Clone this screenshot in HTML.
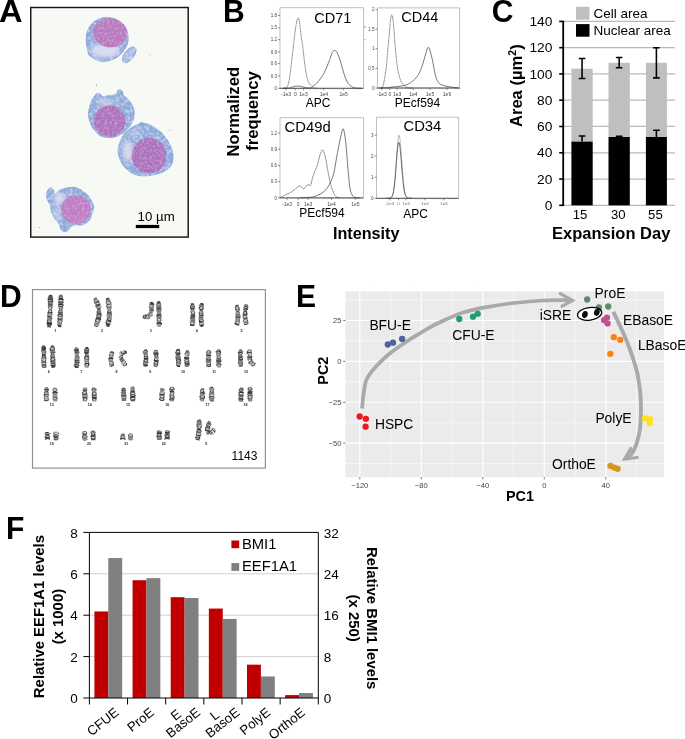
<!DOCTYPE html>
<html><head><meta charset="utf-8"><title>Figure</title>
<style>
html,body{margin:0;padding:0;background:#fff;}
body{width:685px;height:739px;overflow:hidden;font-family:"Liberation Sans",sans-serif;}
svg{display:block;will-change:transform;}
svg text{font-family:"Liberation Sans",sans-serif;}
</style></head><body>
<svg width="685" height="739" viewBox="0 0 685 739">
<defs>
<filter id="cyF" x="-15%" y="-15%" width="130%" height="130%">
<feGaussianBlur in="SourceGraphic" stdDeviation="0.55" result="b"/>
<feTurbulence type="fractalNoise" baseFrequency="0.3" numOctaves="2" seed="5" result="n"/>
<feColorMatrix in="n" type="matrix" values="0 0 0 0 0.88  0 0 0 0 0.9  0 0 0 0 0.97  1.3 0 0 0 -0.55" result="w"/>
<feComposite in="w" in2="b" operator="in" result="wi"/>
<feMerge result="m"><feMergeNode in="b"/><feMergeNode in="wi"/></feMerge>
<feGaussianBlur in="m" stdDeviation="0.45"/></filter>
<filter id="nuF" x="-15%" y="-15%" width="130%" height="130%">
<feGaussianBlur in="SourceGraphic" stdDeviation="0.45" result="b"/>
<feTurbulence type="fractalNoise" baseFrequency="0.4" numOctaves="2" seed="9" result="n"/>
<feColorMatrix in="n" type="matrix" values="0 0 0 0 0.85  0 0 0 0 0.68  0 0 0 0 0.9  1.0 0 0 0 -0.45" result="w"/>
<feComposite in="w" in2="b" operator="in" result="wi"/>
<feColorMatrix in="n" type="matrix" values="0 0 0 0 0.56  0 0 0 0 0.3  0 0 0 0 0.64  0 1.0 0 0 -0.46" result="k"/>
<feComposite in="k" in2="b" operator="in" result="ki"/>
<feMerge result="m"><feMergeNode in="b"/><feMergeNode in="wi"/><feMergeNode in="ki"/></feMerge>
<feGaussianBlur in="m" stdDeviation="0.45"/></filter>
<filter id="liF" x="-40%" y="-40%" width="180%" height="180%"><feGaussianBlur stdDeviation="2.2"/></filter>
<clipPath id="clipA"><rect x="30.75" y="7.5" width="157.45" height="229.6"/></clipPath>
<filter id="blB" x="-5%" y="-5%" width="110%" height="110%"><feGaussianBlur stdDeviation="0.28"/></filter>
<filter id="blD" x="-10%" y="-10%" width="120%" height="120%"><feGaussianBlur stdDeviation="0.45"/></filter>
<filter id="blD2" x="-10%" y="-10%" width="120%" height="120%"><feGaussianBlur stdDeviation="0.25"/></filter>
<clipPath id="clipE"><rect x="345.4" y="291.3" width="318.70000000000005" height="185.89999999999998"/></clipPath>
</defs>
<rect width="685" height="739" fill="#fff"/>
<text transform="translate(-0.9 21.9) scale(1.045 1)" font-size="31.3" font-weight="bold">A</text>
<text transform="translate(223 21.9) scale(0.96 1)" font-size="31.3" font-weight="bold">B</text>
<text transform="translate(491.7 22.0) scale(0.96 1)" font-size="31.3" font-weight="bold">C</text>
<text transform="translate(0 307) scale(0.96 1)" font-size="31.3" font-weight="bold">D</text>
<text transform="translate(296.1 307) scale(0.96 1)" font-size="31.3" font-weight="bold">E</text>
<text transform="translate(5.9 539) scale(0.96 1)" font-size="31.3" font-weight="bold">F</text>
<rect x="30.75" y="7.5" width="157.45" height="229.6" fill="#f7f9f5"/>
<g clip-path="url(#clipA)">
<g filter="url(#cyF)" stroke="#7d9dd5" stroke-width="0.9">
<path d="M86.2 39.6C86.3 36.5 86.6 33.3 87.8 30.4C89.0 27.5 90.8 24.4 93.4 22.3C96.0 20.2 99.8 18.2 103.6 17.7C107.3 17.2 112.5 17.9 115.9 19.2C119.3 20.5 122.0 22.9 124.0 25.3C126.0 27.7 126.9 30.8 127.6 33.5C128.2 36.2 128.3 39.2 127.9 41.7C127.5 44.2 126.5 46.4 125.0 48.8C123.5 51.2 121.3 54.1 118.9 56.0C116.5 57.9 113.5 59.1 110.8 60.0C108.1 60.9 105.2 61.7 102.6 61.6C100.0 61.5 97.6 60.3 95.4 59.2C93.2 58.1 90.5 56.7 89.2 55.0C87.9 53.3 87.9 51.6 87.4 49.0C86.9 46.4 86.1 42.7 86.2 39.6Z" fill="#8eaadc"/>
<ellipse cx="129.2" cy="54.8" rx="4.6" ry="9.3" fill="#a6bae3" transform="rotate(38 129.2 54.8)"/>
<path d="M88.8 111.4C89.2 108.6 90.6 103.5 91.5 101.0C92.4 98.5 93.5 97.7 94.4 96.4C95.3 95.1 96.0 93.8 97.0 93.4C98.0 93.0 99.3 93.5 100.2 94.0C101.1 94.5 101.0 96.3 102.5 96.6C104.0 96.9 106.8 96.0 109.0 95.6C111.2 95.2 114.5 95.2 116.0 94.4C117.5 93.6 117.0 91.4 117.8 90.6C118.6 89.8 120.0 89.5 120.8 89.8C121.6 90.1 122.3 91.3 122.8 92.2C123.2 93.1 122.4 93.9 123.5 95.4C124.6 96.9 127.8 98.7 129.5 101.0C131.2 103.3 132.9 106.3 133.6 109.0C134.3 111.7 134.2 114.6 133.8 117.0C133.5 119.4 132.5 121.7 131.5 123.6C130.5 125.5 129.3 126.9 127.8 128.6C126.3 130.3 124.3 132.3 122.3 133.6C120.3 134.9 118.2 135.9 116.0 136.6C113.8 137.3 111.5 137.6 109.2 137.6C106.9 137.6 104.3 137.4 102.0 136.4C99.7 135.4 97.4 133.6 95.6 131.6C93.8 129.6 92.1 126.9 91.0 124.6C89.9 122.3 89.4 120.2 89.0 118.0C88.6 115.8 88.4 114.2 88.8 111.4Z" fill="#8eaadc"/>
<path d="M118.2 151.5C118.1 148.9 118.7 146.4 119.6 143.6C120.5 140.8 122.2 137.0 123.8 134.6C125.4 132.2 127.2 130.8 129.0 129.4C130.8 128.0 132.9 126.9 134.6 126.0C136.3 125.1 137.9 124.6 139.0 124.0C140.1 123.4 140.5 122.5 141.4 122.4C142.3 122.3 143.4 123.3 144.6 123.6C145.8 123.9 147.1 123.9 148.5 124.4C149.9 124.9 151.1 125.5 153.0 126.7C154.9 127.9 157.8 129.7 160.0 131.6C162.2 133.5 164.4 136.0 166.1 138.4C167.8 140.8 169.3 143.6 170.4 146.0C171.5 148.4 172.3 150.7 172.7 153.0C173.1 155.3 173.2 157.8 172.8 160.0C172.4 162.2 171.7 164.3 170.5 166.1C169.3 167.9 167.3 169.4 165.4 170.6C163.5 171.8 161.7 172.6 158.8 173.4C155.9 174.2 151.4 175.3 148.0 175.6C144.6 175.9 141.4 176.0 138.4 175.4C135.4 174.8 132.4 173.4 130.0 171.8C127.6 170.2 125.5 168.2 123.8 166.1C122.1 164.0 120.9 161.4 120.0 159.0C119.1 156.6 118.3 154.1 118.2 151.5Z" fill="#8eaadc"/>
<path d="M46.4 195.4C46.3 193.5 47.1 191.6 47.8 190.3C48.5 189.0 49.9 187.5 50.8 187.5C51.7 187.5 52.7 189.2 53.4 190.3C54.1 191.5 53.8 194.4 54.9 194.4C56.0 194.4 57.9 191.4 60.0 190.3C62.1 189.2 65.0 188.2 67.7 187.8C70.4 187.4 73.4 187.2 75.9 187.8C78.5 188.4 80.8 189.8 83.0 191.3C85.2 192.8 87.6 194.9 89.2 197.0C90.8 199.1 92.0 201.7 92.7 203.6C93.4 205.5 93.8 206.7 93.5 208.7C93.2 210.7 91.8 213.7 91.2 215.4C90.7 217.1 91.1 217.6 90.2 218.9C89.3 220.2 87.6 222.0 86.1 223.0C84.6 224.0 82.7 224.8 81.0 225.1C79.3 225.4 77.6 224.3 75.9 224.6C74.2 224.8 72.2 225.6 70.8 226.6C69.4 227.6 69.0 229.9 67.7 230.7C66.4 231.5 64.3 231.6 63.1 231.2C61.9 230.8 60.9 229.3 60.3 228.1C59.7 226.9 60.5 225.7 59.5 224.0C58.5 222.3 55.8 220.1 54.4 217.9C53.0 215.7 52.0 213.0 51.3 210.8C50.6 208.6 50.8 206.1 50.3 204.6C49.8 203.1 48.9 203.1 48.3 201.6C47.6 200.1 46.5 197.3 46.4 195.4Z" fill="#8eaadc"/>
</g>
<g filter="url(#liF)" fill="#dadcf0">
<ellipse cx="105" cy="50.5" rx="14.5" ry="7.2" opacity="1"/>
<ellipse cx="106" cy="102.5" rx="9" ry="4" opacity="0.6"/>
<ellipse cx="127.5" cy="151" rx="5" ry="10.5" opacity="0.95"/>
<ellipse cx="134" cy="133" rx="7" ry="4" opacity="0.45"/>
<ellipse cx="59.5" cy="198.5" rx="5.5" ry="5.5" opacity="1"/>
<ellipse cx="57" cy="214" rx="4" ry="8" opacity="0.55"/>
</g>
<g filter="url(#nuF)">
<ellipse cx="110" cy="32.8" rx="17" ry="14.5" fill="#b877bf" transform="rotate(8 110 32.8)"/>
<ellipse cx="109.6" cy="121.2" rx="15.7" ry="15.6" fill="#ad70bc"/>
<ellipse cx="149.1" cy="155.6" rx="17.3" ry="17.8" fill="#aa6fbb"/>
<ellipse cx="75.9" cy="209.5" rx="14.8" ry="14.5" fill="#bf7bc4"/>
</g>
<g fill="#a0509a" opacity="0.7"><circle cx="96.5" cy="85.2" r="0.6"/><circle cx="150" cy="54.8" r="0.5"/><circle cx="170" cy="130.5" r="0.5"/><circle cx="39.3" cy="227.5" r="0.6"/><circle cx="126.5" cy="30.5" r="0.6"/></g>
</g>
<rect x="30.75" y="7.5" width="157.45" height="229.6" fill="none" stroke="#161616" stroke-width="1.45"/>
<rect x="135.8" y="224.9" width="23.4" height="3.2" fill="#000"/>
<text x="137.6" y="220.7" font-size="13.25" font-weight="normal" text-anchor="start" fill="#000" >10 µm</text>
<line x1="563.2" y1="205.30" x2="675" y2="205.30" stroke="#b9b9b9" stroke-width="1.25"/>
<line x1="563.2" y1="179.03" x2="675" y2="179.03" stroke="#b9b9b9" stroke-width="1.25"/>
<line x1="563.2" y1="152.76" x2="675" y2="152.76" stroke="#b9b9b9" stroke-width="1.25"/>
<line x1="563.2" y1="126.49" x2="675" y2="126.49" stroke="#b9b9b9" stroke-width="1.25"/>
<line x1="563.2" y1="100.22" x2="675" y2="100.22" stroke="#b9b9b9" stroke-width="1.25"/>
<line x1="563.2" y1="73.95" x2="675" y2="73.95" stroke="#b9b9b9" stroke-width="1.25"/>
<line x1="563.2" y1="47.68" x2="675" y2="47.68" stroke="#b9b9b9" stroke-width="1.25"/>
<line x1="563.2" y1="21.41" x2="675" y2="21.41" stroke="#b9b9b9" stroke-width="1.25"/>
<rect x="571.4" y="68.70" width="21.30" height="72.90" fill="#bfbfbf"/>
<rect x="571.4" y="141.60" width="21.30" height="63.70" fill="#000"/>
<path d="M582.05 58.45V78.55M578.75 58.45h6.6M578.75 78.55h6.6" stroke="#000" stroke-width="1.55" fill="none"/>
<path d="M582.05 136.08V141.60M578.75 136.08h6.6" stroke="#000" stroke-width="1.55" fill="none"/>
<rect x="608.5" y="62.79" width="21.30" height="74.21" fill="#bfbfbf"/>
<rect x="608.5" y="137.00" width="21.30" height="68.30" fill="#000"/>
<path d="M619.15 57.53V67.78M615.85 57.53h6.6M615.85 67.78h6.6" stroke="#000" stroke-width="1.55" fill="none"/>
<path d="M619.15 136.21V137.00M615.85 136.21h6.6" stroke="#000" stroke-width="1.55" fill="none"/>
<rect x="645.9" y="62.79" width="21.00" height="74.21" fill="#bfbfbf"/>
<rect x="645.9" y="137.00" width="21.00" height="68.30" fill="#000"/>
<path d="M656.4 47.68V77.89M653.1 47.68h6.6M653.1 77.89h6.6" stroke="#000" stroke-width="1.55" fill="none"/>
<path d="M656.4 130.17V137.00M653.1 130.17h6.6" stroke="#000" stroke-width="1.55" fill="none"/>
<line x1="563.2" y1="20.81" x2="563.2" y2="206.10" stroke="#000" stroke-width="1.8"/>
<line x1="559.2" y1="205.30" x2="563.2" y2="205.30" stroke="#000" stroke-width="1.6"/>
<text transform="translate(552.4 209.90) scale(1.05 1)" font-size="13.1" text-anchor="end">0</text>
<line x1="559.2" y1="179.03" x2="563.2" y2="179.03" stroke="#000" stroke-width="1.6"/>
<text transform="translate(552.4 183.63) scale(1.05 1)" font-size="13.1" text-anchor="end">20</text>
<line x1="559.2" y1="152.76" x2="563.2" y2="152.76" stroke="#000" stroke-width="1.6"/>
<text transform="translate(552.4 157.36) scale(1.05 1)" font-size="13.1" text-anchor="end">40</text>
<line x1="559.2" y1="126.49" x2="563.2" y2="126.49" stroke="#000" stroke-width="1.6"/>
<text transform="translate(552.4 131.09) scale(1.05 1)" font-size="13.1" text-anchor="end">60</text>
<line x1="559.2" y1="100.22" x2="563.2" y2="100.22" stroke="#000" stroke-width="1.6"/>
<text transform="translate(552.4 104.82) scale(1.05 1)" font-size="13.1" text-anchor="end">80</text>
<line x1="559.2" y1="73.95" x2="563.2" y2="73.95" stroke="#000" stroke-width="1.6"/>
<text transform="translate(552.4 78.55) scale(1.05 1)" font-size="13.1" text-anchor="end">100</text>
<line x1="559.2" y1="47.68" x2="563.2" y2="47.68" stroke="#000" stroke-width="1.6"/>
<text transform="translate(552.4 52.28) scale(1.05 1)" font-size="13.1" text-anchor="end">120</text>
<line x1="559.2" y1="21.41" x2="563.2" y2="21.41" stroke="#000" stroke-width="1.6"/>
<text transform="translate(552.4 26.01) scale(1.05 1)" font-size="13.1" text-anchor="end">140</text>
<text x="580" y="218.9" font-size="13.2" font-weight="normal" text-anchor="middle" fill="#000" >15</text>
<text x="618.3" y="218.9" font-size="13.2" font-weight="normal" text-anchor="middle" fill="#000" >30</text>
<text x="655.4" y="218.9" font-size="13.2" font-weight="normal" text-anchor="middle" fill="#000" >55</text>
<text x="611.2" y="239.1" font-size="16.5" font-weight="bold" text-anchor="middle" fill="#000" >Expansion Day</text>
<text transform="translate(521.5 85.7) rotate(-90)" font-size="16.6" font-weight="bold" text-anchor="middle">Area (µm<tspan font-size="10.5" dy="-5.5">2</tspan><tspan dy="5.5">)</tspan></text>
<rect x="576" y="6.8" width="13.5" height="12.9" fill="#bfbfbf"/>
<rect x="576" y="24.1" width="13.5" height="12.6" fill="#000"/>
<text x="593.6" y="17.7" font-size="13.5" font-weight="normal" text-anchor="start" fill="#000" >Cell area</text>
<text x="593.6" y="34.6" font-size="13.5" font-weight="normal" text-anchor="start" fill="#000" >Nuclear area</text>
<g filter="url(#blB)">
<path d="M280 7.7H363.5V88.3H280Z" fill="none" stroke="#b8b8b8" stroke-width="0.9"/>
<path d="M279.7 88.3H363.5" fill="none" stroke="#4a4a4a" stroke-width="0.9"/>
<line x1="278" y1="88.3" x2="280" y2="88.3" stroke="#5a5a5a" stroke-width="0.7"/>
<text x="277" y="89.89999999999999" font-size="4.5" font-weight="normal" text-anchor="end" fill="#444" >0</text>
<line x1="278" y1="75.9" x2="280" y2="75.9" stroke="#5a5a5a" stroke-width="0.7"/>
<text x="277" y="77.5" font-size="4.5" font-weight="normal" text-anchor="end" fill="#444" >0.3</text>
<line x1="278" y1="63.6" x2="280" y2="63.6" stroke="#5a5a5a" stroke-width="0.7"/>
<text x="277" y="65.2" font-size="4.5" font-weight="normal" text-anchor="end" fill="#444" >0.6</text>
<line x1="278" y1="51.9" x2="280" y2="51.9" stroke="#5a5a5a" stroke-width="0.7"/>
<text x="277" y="53.5" font-size="4.5" font-weight="normal" text-anchor="end" fill="#444" >0.9</text>
<line x1="278" y1="39.7" x2="280" y2="39.7" stroke="#5a5a5a" stroke-width="0.7"/>
<text x="277" y="41.300000000000004" font-size="4.5" font-weight="normal" text-anchor="end" fill="#444" >1.2</text>
<line x1="278" y1="27.8" x2="280" y2="27.8" stroke="#5a5a5a" stroke-width="0.7"/>
<text x="277" y="29.400000000000002" font-size="4.5" font-weight="normal" text-anchor="end" fill="#444" >1.5</text>
<line x1="278" y1="15.4" x2="280" y2="15.4" stroke="#5a5a5a" stroke-width="0.7"/>
<text x="277" y="17.0" font-size="4.5" font-weight="normal" text-anchor="end" fill="#444" >1.8</text>
<line x1="286" y1="88.3" x2="286" y2="90.3" stroke="#5a5a5a" stroke-width="0.7"/>
<text x="286" y="96.4" font-size="5" font-weight="normal" text-anchor="middle" fill="#444" >-1e3</text>
<line x1="295.3" y1="88.3" x2="295.3" y2="90.3" stroke="#5a5a5a" stroke-width="0.7"/>
<text x="295.3" y="96.4" font-size="5" font-weight="normal" text-anchor="middle" fill="#444" >0</text>
<line x1="303.5" y1="88.3" x2="303.5" y2="90.3" stroke="#5a5a5a" stroke-width="0.7"/>
<text x="303.5" y="96.4" font-size="5" font-weight="normal" text-anchor="middle" fill="#444" >1e3</text>
<line x1="323.8" y1="88.3" x2="323.8" y2="90.3" stroke="#5a5a5a" stroke-width="0.7"/>
<text x="323.8" y="96.4" font-size="5" font-weight="normal" text-anchor="middle" fill="#444" >1e4</text>
<line x1="343.6" y1="88.3" x2="343.6" y2="90.3" stroke="#5a5a5a" stroke-width="0.7"/>
<text x="343.6" y="96.4" font-size="5" font-weight="normal" text-anchor="middle" fill="#444" >1e5</text>
<line x1="309.61" y1="88.3" x2="309.61" y2="89.39999999999999" stroke="#8a8a8a" stroke-width="0.45"/>
<line x1="313.19" y1="88.3" x2="313.19" y2="89.39999999999999" stroke="#8a8a8a" stroke-width="0.45"/>
<line x1="315.72" y1="88.3" x2="315.72" y2="89.39999999999999" stroke="#8a8a8a" stroke-width="0.45"/>
<line x1="317.69" y1="88.3" x2="317.69" y2="89.39999999999999" stroke="#8a8a8a" stroke-width="0.45"/>
<line x1="319.30" y1="88.3" x2="319.30" y2="89.39999999999999" stroke="#8a8a8a" stroke-width="0.45"/>
<line x1="320.66" y1="88.3" x2="320.66" y2="89.39999999999999" stroke="#8a8a8a" stroke-width="0.45"/>
<line x1="321.83" y1="88.3" x2="321.83" y2="89.39999999999999" stroke="#8a8a8a" stroke-width="0.45"/>
<line x1="322.87" y1="88.3" x2="322.87" y2="89.39999999999999" stroke="#8a8a8a" stroke-width="0.45"/>
<line x1="329.76" y1="88.3" x2="329.76" y2="89.39999999999999" stroke="#8a8a8a" stroke-width="0.45"/>
<line x1="333.25" y1="88.3" x2="333.25" y2="89.39999999999999" stroke="#8a8a8a" stroke-width="0.45"/>
<line x1="335.72" y1="88.3" x2="335.72" y2="89.39999999999999" stroke="#8a8a8a" stroke-width="0.45"/>
<line x1="337.64" y1="88.3" x2="337.64" y2="89.39999999999999" stroke="#8a8a8a" stroke-width="0.45"/>
<line x1="339.21" y1="88.3" x2="339.21" y2="89.39999999999999" stroke="#8a8a8a" stroke-width="0.45"/>
<line x1="340.53" y1="88.3" x2="340.53" y2="89.39999999999999" stroke="#8a8a8a" stroke-width="0.45"/>
<line x1="341.68" y1="88.3" x2="341.68" y2="89.39999999999999" stroke="#8a8a8a" stroke-width="0.45"/>
<line x1="342.69" y1="88.3" x2="342.69" y2="89.39999999999999" stroke="#8a8a8a" stroke-width="0.45"/>
<line x1="349.56" y1="88.3" x2="349.56" y2="89.39999999999999" stroke="#8a8a8a" stroke-width="0.45"/>
<line x1="353.05" y1="88.3" x2="353.05" y2="89.39999999999999" stroke="#8a8a8a" stroke-width="0.45"/>
<line x1="355.52" y1="88.3" x2="355.52" y2="89.39999999999999" stroke="#8a8a8a" stroke-width="0.45"/>
<line x1="357.44" y1="88.3" x2="357.44" y2="89.39999999999999" stroke="#8a8a8a" stroke-width="0.45"/>
<line x1="359.01" y1="88.3" x2="359.01" y2="89.39999999999999" stroke="#8a8a8a" stroke-width="0.45"/>
<line x1="360.33" y1="88.3" x2="360.33" y2="89.39999999999999" stroke="#8a8a8a" stroke-width="0.45"/>
<path d="M283.00 88.20 C283.48 88.17 285.17 88.27 285.90 88.00 C286.63 87.73 286.92 87.63 287.40 86.60 C287.88 85.57 288.37 83.77 288.80 81.80 C289.23 79.83 289.63 77.27 290.00 74.80 C290.37 72.33 290.63 70.05 291.00 67.00 C291.37 63.95 291.77 60.23 292.20 56.50 C292.63 52.77 293.13 48.60 293.60 44.60 C294.07 40.60 294.50 36.27 295.00 32.50 C295.50 28.73 296.07 24.45 296.60 22.00 C297.13 19.55 297.73 17.90 298.20 17.80 C298.67 17.70 299.03 19.40 299.40 21.40 C299.77 23.40 300.07 27.13 300.40 29.80 C300.73 32.47 301.05 34.93 301.40 37.40 C301.75 39.87 302.17 42.10 302.50 44.60 C302.83 47.10 303.12 49.92 303.40 52.40 C303.68 54.88 303.90 56.98 304.20 59.50 C304.50 62.02 304.83 65.02 305.20 67.50 C305.57 69.98 306.03 72.55 306.40 74.40 C306.77 76.25 307.05 77.37 307.40 78.60 C307.75 79.83 308.10 80.87 308.50 81.80 C308.90 82.73 309.35 83.55 309.80 84.20 C310.25 84.85 310.73 85.23 311.20 85.70 C311.67 86.17 312.13 86.63 312.60 87.00 C313.07 87.37 313.27 87.70 314.00 87.90 C314.73 88.10 316.50 88.15 317.00 88.20" fill="none" stroke="#383838" stroke-width="0.62" stroke-dasharray="1.5 0.5"/>
<path d="M283.00 88.20 C283.83 88.18 286.78 88.17 288.00 88.10 C289.22 88.03 289.47 88.02 290.30 87.80 C291.13 87.58 292.13 87.07 293.00 86.80 C293.87 86.53 294.70 86.33 295.50 86.20 C296.30 86.07 296.97 85.98 297.80 86.00 C298.63 86.02 299.55 86.12 300.50 86.30 C301.45 86.48 302.47 86.87 303.50 87.10 C304.53 87.33 305.78 87.57 306.70 87.70 C307.62 87.83 308.25 87.92 309.00 87.90 C309.75 87.88 310.45 87.92 311.20 87.60 C311.95 87.28 312.77 86.57 313.50 86.00 C314.23 85.43 314.87 84.90 315.60 84.20 C316.33 83.50 317.07 82.77 317.90 81.80 C318.73 80.83 319.68 79.63 320.60 78.40 C321.52 77.17 322.63 75.67 323.40 74.40 C324.17 73.13 324.63 72.03 325.20 70.80 C325.77 69.57 326.28 68.25 326.80 67.00 C327.32 65.75 327.80 64.55 328.30 63.30 C328.80 62.05 329.35 60.73 329.80 59.50 C330.25 58.27 330.58 57.05 331.00 55.90 C331.42 54.75 331.87 53.42 332.30 52.60 C332.73 51.78 333.15 51.35 333.60 51.00 C334.05 50.65 334.53 50.43 335.00 50.50 C335.47 50.57 335.97 50.88 336.40 51.40 C336.83 51.92 337.20 52.73 337.60 53.60 C338.00 54.47 338.42 55.58 338.80 56.60 C339.18 57.62 339.53 58.57 339.90 59.70 C340.27 60.83 340.65 62.18 341.00 63.40 C341.35 64.62 341.65 65.77 342.00 67.00 C342.35 68.23 342.73 69.57 343.10 70.80 C343.47 72.03 343.78 73.13 344.20 74.40 C344.62 75.67 345.10 77.17 345.60 78.40 C346.10 79.63 346.60 80.77 347.20 81.80 C347.80 82.83 348.52 83.85 349.20 84.60 C349.88 85.35 350.50 85.80 351.30 86.30 C352.10 86.80 353.00 87.30 354.00 87.60 C355.00 87.90 355.97 88.00 357.30 88.10 C358.63 88.20 361.22 88.18 362.00 88.20" fill="none" stroke="#383838" stroke-width="0.68"/>
<path d="M377.5 7.9H459.5V88H377.5Z" fill="none" stroke="#b8b8b8" stroke-width="0.9"/>
<path d="M377.2 88H459.5" fill="none" stroke="#4a4a4a" stroke-width="0.9"/>
<line x1="375.5" y1="88" x2="377.5" y2="88" stroke="#5a5a5a" stroke-width="0.7"/>
<text x="374.5" y="89.6" font-size="4.5" font-weight="normal" text-anchor="end" fill="#444" >0</text>
<line x1="375.5" y1="68.3" x2="377.5" y2="68.3" stroke="#5a5a5a" stroke-width="0.7"/>
<text x="374.5" y="69.89999999999999" font-size="4.5" font-weight="normal" text-anchor="end" fill="#444" >0.5</text>
<line x1="375.5" y1="48.7" x2="377.5" y2="48.7" stroke="#5a5a5a" stroke-width="0.7"/>
<text x="374.5" y="50.300000000000004" font-size="4.5" font-weight="normal" text-anchor="end" fill="#444" >1</text>
<line x1="375.5" y1="29.2" x2="377.5" y2="29.2" stroke="#5a5a5a" stroke-width="0.7"/>
<text x="374.5" y="30.8" font-size="4.5" font-weight="normal" text-anchor="end" fill="#444" >1.5</text>
<line x1="375.5" y1="9.6" x2="377.5" y2="9.6" stroke="#5a5a5a" stroke-width="0.7"/>
<text x="374.5" y="11.2" font-size="4.5" font-weight="normal" text-anchor="end" fill="#444" >2</text>
<line x1="381.9" y1="88" x2="381.9" y2="90" stroke="#5a5a5a" stroke-width="0.7"/>
<text x="381.9" y="95.5" font-size="5" font-weight="normal" text-anchor="middle" fill="#444" >-1e3</text>
<line x1="389.8" y1="88" x2="389.8" y2="90" stroke="#5a5a5a" stroke-width="0.7"/>
<text x="389.8" y="95.5" font-size="5" font-weight="normal" text-anchor="middle" fill="#444" >0</text>
<line x1="397.1" y1="88" x2="397.1" y2="90" stroke="#5a5a5a" stroke-width="0.7"/>
<text x="397.1" y="95.5" font-size="5" font-weight="normal" text-anchor="middle" fill="#444" >1e3</text>
<line x1="413.4" y1="88" x2="413.4" y2="90" stroke="#5a5a5a" stroke-width="0.7"/>
<text x="413.4" y="95.5" font-size="5" font-weight="normal" text-anchor="middle" fill="#444" >1e4</text>
<line x1="430" y1="88" x2="430" y2="90" stroke="#5a5a5a" stroke-width="0.7"/>
<text x="430" y="95.5" font-size="5" font-weight="normal" text-anchor="middle" fill="#444" >1e5</text>
<line x1="447" y1="88" x2="447" y2="90" stroke="#5a5a5a" stroke-width="0.7"/>
<text x="447" y="95.5" font-size="5" font-weight="normal" text-anchor="middle" fill="#444" >1e6</text>
<line x1="402.01" y1="88" x2="402.01" y2="89.1" stroke="#8a8a8a" stroke-width="0.45"/>
<line x1="404.88" y1="88" x2="404.88" y2="89.1" stroke="#8a8a8a" stroke-width="0.45"/>
<line x1="406.91" y1="88" x2="406.91" y2="89.1" stroke="#8a8a8a" stroke-width="0.45"/>
<line x1="408.49" y1="88" x2="408.49" y2="89.1" stroke="#8a8a8a" stroke-width="0.45"/>
<line x1="409.78" y1="88" x2="409.78" y2="89.1" stroke="#8a8a8a" stroke-width="0.45"/>
<line x1="410.88" y1="88" x2="410.88" y2="89.1" stroke="#8a8a8a" stroke-width="0.45"/>
<line x1="411.82" y1="88" x2="411.82" y2="89.1" stroke="#8a8a8a" stroke-width="0.45"/>
<line x1="412.65" y1="88" x2="412.65" y2="89.1" stroke="#8a8a8a" stroke-width="0.45"/>
<line x1="418.40" y1="88" x2="418.40" y2="89.1" stroke="#8a8a8a" stroke-width="0.45"/>
<line x1="421.32" y1="88" x2="421.32" y2="89.1" stroke="#8a8a8a" stroke-width="0.45"/>
<line x1="423.39" y1="88" x2="423.39" y2="89.1" stroke="#8a8a8a" stroke-width="0.45"/>
<line x1="425.00" y1="88" x2="425.00" y2="89.1" stroke="#8a8a8a" stroke-width="0.45"/>
<line x1="426.32" y1="88" x2="426.32" y2="89.1" stroke="#8a8a8a" stroke-width="0.45"/>
<line x1="427.43" y1="88" x2="427.43" y2="89.1" stroke="#8a8a8a" stroke-width="0.45"/>
<line x1="428.39" y1="88" x2="428.39" y2="89.1" stroke="#8a8a8a" stroke-width="0.45"/>
<line x1="429.24" y1="88" x2="429.24" y2="89.1" stroke="#8a8a8a" stroke-width="0.45"/>
<line x1="435.12" y1="88" x2="435.12" y2="89.1" stroke="#8a8a8a" stroke-width="0.45"/>
<line x1="438.11" y1="88" x2="438.11" y2="89.1" stroke="#8a8a8a" stroke-width="0.45"/>
<line x1="440.24" y1="88" x2="440.24" y2="89.1" stroke="#8a8a8a" stroke-width="0.45"/>
<line x1="441.88" y1="88" x2="441.88" y2="89.1" stroke="#8a8a8a" stroke-width="0.45"/>
<line x1="443.23" y1="88" x2="443.23" y2="89.1" stroke="#8a8a8a" stroke-width="0.45"/>
<line x1="444.37" y1="88" x2="444.37" y2="89.1" stroke="#8a8a8a" stroke-width="0.45"/>
<line x1="445.35" y1="88" x2="445.35" y2="89.1" stroke="#8a8a8a" stroke-width="0.45"/>
<line x1="446.22" y1="88" x2="446.22" y2="89.1" stroke="#8a8a8a" stroke-width="0.45"/>
<line x1="452.12" y1="88" x2="452.12" y2="89.1" stroke="#8a8a8a" stroke-width="0.45"/>
<line x1="455.11" y1="88" x2="455.11" y2="89.1" stroke="#8a8a8a" stroke-width="0.45"/>
<line x1="457.24" y1="88" x2="457.24" y2="89.1" stroke="#8a8a8a" stroke-width="0.45"/>
<line x1="458.88" y1="88" x2="458.88" y2="89.1" stroke="#8a8a8a" stroke-width="0.45"/>
<line x1="460.23" y1="88" x2="460.23" y2="89.1" stroke="#8a8a8a" stroke-width="0.45"/>
<path d="M379.00 88.00 C379.52 87.95 381.43 88.07 382.10 87.70 C382.77 87.33 382.68 86.78 383.00 85.80 C383.32 84.82 383.63 83.67 384.00 81.80 C384.37 79.93 384.82 77.07 385.20 74.60 C385.58 72.13 386.00 69.50 386.30 67.00 C386.60 64.50 386.78 62.08 387.00 59.60 C387.22 57.12 387.38 54.60 387.60 52.10 C387.82 49.60 388.07 47.08 388.30 44.60 C388.53 42.12 388.77 39.70 389.00 37.20 C389.23 34.70 389.48 32.08 389.70 29.60 C389.92 27.12 390.08 24.43 390.30 22.30 C390.52 20.17 390.75 18.05 391.00 16.80 C391.25 15.55 391.53 14.73 391.80 14.80 C392.07 14.87 392.35 15.95 392.60 17.20 C392.85 18.45 393.08 20.23 393.30 22.30 C393.52 24.37 393.70 27.12 393.90 29.60 C394.10 32.08 394.30 34.70 394.50 37.20 C394.70 39.70 394.90 42.12 395.10 44.60 C395.30 47.08 395.47 49.57 395.70 52.10 C395.93 54.63 396.22 57.32 396.50 59.80 C396.78 62.28 397.13 65.13 397.40 67.00 C397.67 68.87 397.85 69.77 398.10 71.00 C398.35 72.23 398.58 73.13 398.90 74.40 C399.22 75.67 399.62 77.37 400.00 78.60 C400.38 79.83 400.77 80.87 401.20 81.80 C401.63 82.73 402.13 83.57 402.60 84.20 C403.07 84.83 403.43 85.13 404.00 85.60 C404.57 86.07 405.30 86.63 406.00 87.00 C406.70 87.37 407.20 87.63 408.20 87.80 C409.20 87.97 411.37 87.97 412.00 88.00" fill="none" stroke="#383838" stroke-width="0.62" stroke-dasharray="1.5 0.5"/>
<path d="M380.00 88.00 C381.22 87.97 385.47 87.93 387.30 87.80 C389.13 87.67 389.75 87.37 391.00 87.20 C392.25 87.03 393.55 86.93 394.80 86.80 C396.05 86.67 397.27 86.55 398.50 86.40 C399.73 86.25 401.08 86.10 402.20 85.90 C403.32 85.70 404.20 85.50 405.20 85.20 C406.20 84.90 407.33 84.50 408.20 84.10 C409.07 83.70 409.67 83.30 410.40 82.80 C411.13 82.30 411.92 81.67 412.60 81.10 C413.28 80.53 413.88 80.02 414.50 79.40 C415.12 78.78 415.75 78.07 416.30 77.40 C416.85 76.73 417.30 76.15 417.80 75.40 C418.30 74.65 418.80 73.87 419.30 72.90 C419.80 71.93 420.30 70.83 420.80 69.60 C421.30 68.37 421.87 66.80 422.30 65.50 C422.73 64.20 423.03 63.05 423.40 61.80 C423.77 60.55 424.17 59.13 424.50 58.00 C424.83 56.87 425.10 55.98 425.40 55.00 C425.70 54.02 426.00 53.10 426.30 52.10 C426.60 51.10 426.88 49.82 427.20 49.00 C427.52 48.18 427.85 47.27 428.20 47.20 C428.55 47.13 428.92 47.78 429.30 48.60 C429.68 49.42 430.15 50.93 430.50 52.10 C430.85 53.27 431.10 54.37 431.40 55.60 C431.70 56.83 432.03 58.23 432.30 59.50 C432.57 60.77 432.75 61.95 433.00 63.20 C433.25 64.45 433.55 65.73 433.80 67.00 C434.05 68.27 434.27 69.57 434.50 70.80 C434.73 72.03 434.93 73.27 435.20 74.40 C435.47 75.53 435.77 76.60 436.10 77.60 C436.43 78.60 436.80 79.57 437.20 80.40 C437.60 81.23 438.02 81.98 438.50 82.60 C438.98 83.22 439.42 83.67 440.10 84.10 C440.78 84.53 441.72 84.88 442.60 85.20 C443.48 85.52 444.45 85.77 445.40 86.00 C446.35 86.23 447.32 86.42 448.30 86.60 C449.28 86.78 450.18 86.92 451.30 87.10 C452.42 87.28 453.75 87.55 455.00 87.70 C456.25 87.85 458.17 87.95 458.80 88.00" fill="none" stroke="#383838" stroke-width="0.68"/>
<path d="M364.2 26.2l1.6 0.8l-1.6 0.8M364.3 39.6h1.6" fill="none" stroke="#777" stroke-width="0.5"/>
<path d="M280 117.7H363.5V197.9H280Z" fill="none" stroke="#b8b8b8" stroke-width="0.9"/>
<path d="M279.7 197.9H363.5" fill="none" stroke="#4a4a4a" stroke-width="0.9"/>
<line x1="278" y1="197.9" x2="280" y2="197.9" stroke="#5a5a5a" stroke-width="0.7"/>
<text x="277" y="199.5" font-size="4.5" font-weight="normal" text-anchor="end" fill="#444" >0</text>
<line x1="278" y1="181.7" x2="280" y2="181.7" stroke="#5a5a5a" stroke-width="0.7"/>
<text x="277" y="183.29999999999998" font-size="4.5" font-weight="normal" text-anchor="end" fill="#444" >0.3</text>
<line x1="278" y1="165.6" x2="280" y2="165.6" stroke="#5a5a5a" stroke-width="0.7"/>
<text x="277" y="167.2" font-size="4.5" font-weight="normal" text-anchor="end" fill="#444" >0.6</text>
<line x1="278" y1="149.3" x2="280" y2="149.3" stroke="#5a5a5a" stroke-width="0.7"/>
<text x="277" y="150.9" font-size="4.5" font-weight="normal" text-anchor="end" fill="#444" >0.9</text>
<line x1="278" y1="133.1" x2="280" y2="133.1" stroke="#5a5a5a" stroke-width="0.7"/>
<text x="277" y="134.7" font-size="4.5" font-weight="normal" text-anchor="end" fill="#444" >1.2</text>
<line x1="287.1" y1="197.9" x2="287.1" y2="199.9" stroke="#5a5a5a" stroke-width="0.7"/>
<text x="287.1" y="205.9" font-size="5" font-weight="normal" text-anchor="middle" fill="#444" >-1e3</text>
<line x1="298.1" y1="197.9" x2="298.1" y2="199.9" stroke="#5a5a5a" stroke-width="0.7"/>
<text x="298.1" y="205.9" font-size="5" font-weight="normal" text-anchor="middle" fill="#444" >0</text>
<line x1="308.1" y1="197.9" x2="308.1" y2="199.9" stroke="#5a5a5a" stroke-width="0.7"/>
<text x="308.1" y="205.9" font-size="5" font-weight="normal" text-anchor="middle" fill="#444" >1e3</text>
<line x1="331.5" y1="197.9" x2="331.5" y2="199.9" stroke="#5a5a5a" stroke-width="0.7"/>
<text x="331.5" y="205.9" font-size="5" font-weight="normal" text-anchor="middle" fill="#444" >1e4</text>
<line x1="355.3" y1="197.9" x2="355.3" y2="199.9" stroke="#5a5a5a" stroke-width="0.7"/>
<text x="355.3" y="205.9" font-size="5" font-weight="normal" text-anchor="middle" fill="#444" >1e5</text>
<line x1="315.14" y1="197.9" x2="315.14" y2="199.0" stroke="#8a8a8a" stroke-width="0.45"/>
<line x1="319.26" y1="197.9" x2="319.26" y2="199.0" stroke="#8a8a8a" stroke-width="0.45"/>
<line x1="322.19" y1="197.9" x2="322.19" y2="199.0" stroke="#8a8a8a" stroke-width="0.45"/>
<line x1="324.46" y1="197.9" x2="324.46" y2="199.0" stroke="#8a8a8a" stroke-width="0.45"/>
<line x1="326.31" y1="197.9" x2="326.31" y2="199.0" stroke="#8a8a8a" stroke-width="0.45"/>
<line x1="327.88" y1="197.9" x2="327.88" y2="199.0" stroke="#8a8a8a" stroke-width="0.45"/>
<line x1="329.23" y1="197.9" x2="329.23" y2="199.0" stroke="#8a8a8a" stroke-width="0.45"/>
<line x1="330.43" y1="197.9" x2="330.43" y2="199.0" stroke="#8a8a8a" stroke-width="0.45"/>
<line x1="338.66" y1="197.9" x2="338.66" y2="199.0" stroke="#8a8a8a" stroke-width="0.45"/>
<line x1="342.86" y1="197.9" x2="342.86" y2="199.0" stroke="#8a8a8a" stroke-width="0.45"/>
<line x1="345.83" y1="197.9" x2="345.83" y2="199.0" stroke="#8a8a8a" stroke-width="0.45"/>
<line x1="348.14" y1="197.9" x2="348.14" y2="199.0" stroke="#8a8a8a" stroke-width="0.45"/>
<line x1="350.02" y1="197.9" x2="350.02" y2="199.0" stroke="#8a8a8a" stroke-width="0.45"/>
<line x1="351.61" y1="197.9" x2="351.61" y2="199.0" stroke="#8a8a8a" stroke-width="0.45"/>
<line x1="352.99" y1="197.9" x2="352.99" y2="199.0" stroke="#8a8a8a" stroke-width="0.45"/>
<line x1="354.21" y1="197.9" x2="354.21" y2="199.0" stroke="#8a8a8a" stroke-width="0.45"/>
<line x1="362.43" y1="197.9" x2="362.43" y2="199.0" stroke="#8a8a8a" stroke-width="0.45"/>
<path d="M280.00 197.60 C280.67 197.27 282.43 196.37 284.00 195.60 C285.57 194.83 287.82 193.87 289.40 193.00 C290.98 192.13 292.13 191.38 293.50 190.40 C294.87 189.42 296.52 187.83 297.60 187.10 C298.68 186.37 299.02 185.73 300.00 186.00 C300.98 186.27 302.58 188.53 303.50 188.70 C304.42 188.87 304.92 187.58 305.50 187.00 C306.08 186.42 306.42 185.57 307.00 185.20 C307.58 184.83 308.42 184.77 309.00 184.80 C309.58 184.83 310.00 186.20 310.50 185.40 C311.00 184.60 311.42 182.05 312.00 180.00 C312.58 177.95 313.37 174.90 314.00 173.10 C314.63 171.30 315.22 170.57 315.80 169.20 C316.38 167.83 316.83 167.18 317.50 164.90 C318.17 162.62 319.03 157.95 319.80 155.50 C320.57 153.05 321.47 150.92 322.10 150.20 C322.73 149.48 323.00 149.82 323.60 151.20 C324.20 152.58 325.07 155.70 325.70 158.50 C326.33 161.30 326.82 164.78 327.40 168.00 C327.98 171.22 328.60 174.92 329.20 177.80 C329.80 180.68 330.42 183.17 331.00 185.30 C331.58 187.43 332.07 188.98 332.70 190.60 C333.33 192.22 334.03 193.87 334.80 195.00 C335.57 196.13 336.43 196.93 337.30 197.40 C338.17 197.87 339.55 197.73 340.00 197.80" fill="none" stroke="#383838" stroke-width="0.64" stroke-dasharray="1.8 0.45"/>
<path d="M300.00 197.80 C301.33 197.73 305.87 197.55 308.00 197.40 C310.13 197.25 311.13 197.27 312.80 196.90 C314.47 196.53 316.45 195.85 318.00 195.20 C319.55 194.55 320.77 193.93 322.10 193.00 C323.43 192.07 324.82 190.97 326.00 189.60 C327.18 188.23 328.27 186.47 329.20 184.80 C330.13 183.13 330.83 181.55 331.60 179.60 C332.37 177.65 333.20 175.37 333.80 173.10 C334.40 170.83 334.73 168.60 335.20 166.00 C335.67 163.40 336.05 160.60 336.60 157.50 C337.15 154.40 337.83 150.82 338.50 147.40 C339.17 143.98 339.90 140.03 340.60 137.00 C341.30 133.97 342.13 130.20 342.70 129.20 C343.27 128.20 343.53 129.13 344.00 131.00 C344.47 132.87 345.05 136.73 345.50 140.40 C345.95 144.07 346.30 148.33 346.70 153.00 C347.10 157.67 347.52 163.90 347.90 168.40 C348.28 172.90 348.62 176.50 349.00 180.00 C349.38 183.50 349.73 187.00 350.20 189.40 C350.67 191.80 351.22 193.15 351.80 194.40 C352.38 195.65 352.80 196.33 353.70 196.90 C354.60 197.47 356.15 197.63 357.20 197.80 C358.25 197.97 359.53 197.88 360.00 197.90" fill="none" stroke="#383838" stroke-width="0.68"/>
<path d="M376.5 117.2H458.6V198.3H376.5Z" fill="none" stroke="#b8b8b8" stroke-width="0.9"/>
<path d="M376.2 198.3H458.6" fill="none" stroke="#4a4a4a" stroke-width="0.9"/>
<line x1="374.5" y1="198.3" x2="376.5" y2="198.3" stroke="#5a5a5a" stroke-width="0.7"/>
<text x="373.5" y="199.9" font-size="4.5" font-weight="normal" text-anchor="end" fill="#444" >0</text>
<line x1="374.5" y1="177.3" x2="376.5" y2="177.3" stroke="#5a5a5a" stroke-width="0.7"/>
<text x="373.5" y="178.9" font-size="4.5" font-weight="normal" text-anchor="end" fill="#444" >1</text>
<line x1="374.5" y1="156.1" x2="376.5" y2="156.1" stroke="#5a5a5a" stroke-width="0.7"/>
<text x="373.5" y="157.7" font-size="4.5" font-weight="normal" text-anchor="end" fill="#444" >2</text>
<line x1="374.5" y1="135.2" x2="376.5" y2="135.2" stroke="#5a5a5a" stroke-width="0.7"/>
<text x="373.5" y="136.79999999999998" font-size="4.5" font-weight="normal" text-anchor="end" fill="#444" >3</text>
<line x1="389.8" y1="198.3" x2="389.8" y2="200.3" stroke="#5a5a5a" stroke-width="0.7"/>
<text x="389.8" y="205.3" font-size="4.4" font-weight="normal" text-anchor="middle" fill="#6e6e6e" >-1e3</text>
<line x1="398.5" y1="198.3" x2="398.5" y2="200.3" stroke="#5a5a5a" stroke-width="0.7"/>
<text x="398.5" y="205.3" font-size="4.4" font-weight="normal" text-anchor="middle" fill="#6e6e6e" >0</text>
<line x1="406.1" y1="198.3" x2="406.1" y2="200.3" stroke="#5a5a5a" stroke-width="0.7"/>
<text x="406.1" y="205.3" font-size="4.4" font-weight="normal" text-anchor="middle" fill="#6e6e6e" >1e3</text>
<line x1="425" y1="198.3" x2="425" y2="200.3" stroke="#5a5a5a" stroke-width="0.7"/>
<text x="425" y="205.3" font-size="4.4" font-weight="normal" text-anchor="middle" fill="#6e6e6e" >1e4</text>
<line x1="444" y1="198.3" x2="444" y2="200.3" stroke="#5a5a5a" stroke-width="0.7"/>
<text x="444" y="205.3" font-size="4.4" font-weight="normal" text-anchor="middle" fill="#6e6e6e" >1e5</text>
<line x1="411.79" y1="198.3" x2="411.79" y2="199.4" stroke="#8a8a8a" stroke-width="0.45"/>
<line x1="415.12" y1="198.3" x2="415.12" y2="199.4" stroke="#8a8a8a" stroke-width="0.45"/>
<line x1="417.48" y1="198.3" x2="417.48" y2="199.4" stroke="#8a8a8a" stroke-width="0.45"/>
<line x1="419.31" y1="198.3" x2="419.31" y2="199.4" stroke="#8a8a8a" stroke-width="0.45"/>
<line x1="420.81" y1="198.3" x2="420.81" y2="199.4" stroke="#8a8a8a" stroke-width="0.45"/>
<line x1="422.07" y1="198.3" x2="422.07" y2="199.4" stroke="#8a8a8a" stroke-width="0.45"/>
<line x1="423.17" y1="198.3" x2="423.17" y2="199.4" stroke="#8a8a8a" stroke-width="0.45"/>
<line x1="424.14" y1="198.3" x2="424.14" y2="199.4" stroke="#8a8a8a" stroke-width="0.45"/>
<line x1="430.72" y1="198.3" x2="430.72" y2="199.4" stroke="#8a8a8a" stroke-width="0.45"/>
<line x1="434.07" y1="198.3" x2="434.07" y2="199.4" stroke="#8a8a8a" stroke-width="0.45"/>
<line x1="436.44" y1="198.3" x2="436.44" y2="199.4" stroke="#8a8a8a" stroke-width="0.45"/>
<line x1="438.28" y1="198.3" x2="438.28" y2="199.4" stroke="#8a8a8a" stroke-width="0.45"/>
<line x1="439.78" y1="198.3" x2="439.78" y2="199.4" stroke="#8a8a8a" stroke-width="0.45"/>
<line x1="441.06" y1="198.3" x2="441.06" y2="199.4" stroke="#8a8a8a" stroke-width="0.45"/>
<line x1="442.16" y1="198.3" x2="442.16" y2="199.4" stroke="#8a8a8a" stroke-width="0.45"/>
<line x1="443.13" y1="198.3" x2="443.13" y2="199.4" stroke="#8a8a8a" stroke-width="0.45"/>
<line x1="449.72" y1="198.3" x2="449.72" y2="199.4" stroke="#8a8a8a" stroke-width="0.45"/>
<line x1="453.07" y1="198.3" x2="453.07" y2="199.4" stroke="#8a8a8a" stroke-width="0.45"/>
<line x1="455.44" y1="198.3" x2="455.44" y2="199.4" stroke="#8a8a8a" stroke-width="0.45"/>
<path d="M386.00 198.30 L386.50 198.30 L387.00 198.30 L387.50 198.30 L388.00 198.29 L388.50 198.29 L389.00 198.27 L389.50 198.24 L390.00 198.18 L390.50 198.06 L391.00 197.84 L391.50 197.46 L392.00 196.84 L392.50 195.84 L393.00 194.33 L393.50 192.12 L394.00 189.04 L394.50 184.96 L395.00 179.80 L395.50 173.62 L396.00 166.61 L396.50 159.15 L397.00 151.76 L397.50 145.06 L398.00 139.68 L398.50 136.21 L399.00 135.00 L399.50 136.04 L400.00 139.05 L400.50 143.75 L401.00 149.71 L401.50 156.43 L402.00 163.39 L402.50 170.14 L403.00 176.32 L403.50 181.71 L404.00 186.18 L404.50 189.73 L405.00 192.44 L405.50 194.43 L406.00 195.82 L406.50 196.76 L407.00 197.38 L407.50 197.77 L408.00 198.00 L408.50 198.14 L409.00 198.21 L409.50 198.26 L410.00 198.28 L410.50 198.29 L411.00 198.30 L411.50 198.30 L412.00 198.30" fill="none" stroke="#777" stroke-width="0.8" stroke-dasharray="1.2 0.8"/>
<path d="M386.00 198.30 L386.50 198.30 L387.00 198.30 L387.50 198.30 L388.00 198.29 L388.50 198.28 L389.00 198.25 L389.50 198.21 L390.00 198.12 L390.50 197.96 L391.00 197.68 L391.50 197.21 L392.00 196.46 L392.50 195.32 L393.00 193.63 L393.50 191.26 L394.00 188.08 L394.50 183.98 L395.00 178.99 L395.50 173.19 L396.00 166.83 L396.50 160.30 L397.00 154.08 L397.50 148.70 L398.00 144.70 L398.50 142.47 L399.00 142.25 L399.50 143.96 L400.00 147.39 L400.50 152.21 L401.00 157.98 L401.50 164.21 L402.00 170.46 L402.50 176.32 L403.00 181.54 L403.50 185.95 L404.00 189.50 L404.50 192.25 L405.00 194.28 L405.50 195.71 L406.00 196.69 L406.50 197.34 L407.00 197.74 L407.50 197.99 L408.00 198.13 L408.50 198.21 L409.00 198.26 L409.50 198.28 L410.00 198.29 L410.50 198.30 L411.00 198.30 L411.50 198.30 L412.00 198.30" fill="none" stroke="#383838" stroke-width="0.68"/>
</g>
<text x="314.3" y="23" font-size="14.5" font-weight="normal" text-anchor="start" fill="#000" >CD71</text>
<text x="401.3" y="22.4" font-size="14.5" font-weight="normal" text-anchor="start" fill="#000" >CD44</text>
<text x="284.6" y="132.3" font-size="14.8" font-weight="normal" text-anchor="start" fill="#000" >CD49d</text>
<text x="403.5" y="131" font-size="14.8" font-weight="normal" text-anchor="start" fill="#000" >CD34</text>
<text x="318" y="107" font-size="12" font-weight="normal" text-anchor="middle" fill="#000" >APC</text>
<text x="417.5" y="106.6" font-size="12" font-weight="normal" text-anchor="middle" fill="#000" >PEcf594</text>
<text x="322" y="217" font-size="12" font-weight="normal" text-anchor="middle" fill="#000" >PEcf594</text>
<text x="415.6" y="217.5" font-size="12" font-weight="normal" text-anchor="middle" fill="#000" >APC</text>
<text x="366.2" y="238.5" font-size="16.2" font-weight="bold" text-anchor="middle" fill="#000" >Intensity</text>
<text transform="translate(238.8 111.7) rotate(-90)" font-size="16.6" font-weight="bold" text-anchor="middle">Normalized</text>
<text transform="translate(257.8 111) rotate(-90)" font-size="16.6" font-weight="bold" text-anchor="middle">frequency</text>
<rect x="32.5" y="289.6" width="232.9" height="178.5" fill="#fff" stroke="#929292" stroke-width="1.2"/>
<g filter="url(#blD)" fill="none" stroke-width="0.95" stroke-linecap="butt">
<path d="M51.8 300.5L48.9 300.5M52.1 302.2L49.0 302.2M51.5 303.9L49.4 303.9M51.3 307.3L49.2 307.3M51.0 308.2L48.9 308.1M51.0 310.7L49.5 310.7M51.2 311.6L49.1 311.5M51.1 313.3L49.0 313.2M51.3 315.9L48.5 315.7M50.8 319.3L48.4 319.1M50.7 321.0L48.1 320.8M50.4 321.8L48.2 321.6M61.5 296.9L60.0 296.9M62.7 300.3L59.5 300.3M61.9 301.2L59.7 301.1M62.3 305.4L59.3 305.3M62.0 308.0L59.5 307.9M61.1 308.8L60.1 308.8M61.9 311.4L59.4 311.3M61.6 315.7L58.6 315.5M61.2 317.3L58.8 317.2M61.6 318.2L59.3 318.1M61.4 320.8L59.2 320.6M61.4 321.6L58.2 321.4M60.8 324.2L58.4 323.9M96.9 300.4L95.0 301.5M98.2 302.7L96.3 303.5M98.8 303.5L96.7 304.2M100.1 306.9L97.2 307.4M100.3 315.8L97.6 315.4M99.9 316.6L97.6 316.3M99.1 320.9L96.3 320.2M98.6 321.8L96.4 321.0M97.2 325.9L95.1 324.9M109.9 302.3L106.8 302.9M110.5 303.0L107.3 303.6M110.7 304.8L107.3 305.3M110.3 305.7L107.5 306.1M110.3 308.4L108.2 308.5M110.5 311.8L108.3 311.9M110.4 319.7L108.0 319.4M109.5 322.2L107.0 321.7M109.6 323.0L106.6 322.5M152.6 306.0L150.4 305.8M152.7 306.8L150.2 306.7M151.3 311.8L150.6 311.8M151.7 314.9L149.6 313.7M150.7 316.3L148.4 315.0M147.9 318.2L147.3 315.4M147.1 318.3L146.5 315.7M144.1 318.0L144.4 315.7M159.8 304.9L157.3 304.9M159.6 312.5L158.5 312.6M159.4 313.4L157.8 313.4M160.7 316.8L157.8 316.8M159.9 319.3L157.7 319.4M160.3 320.2L158.0 320.2M160.7 324.4L157.7 324.5M193.8 305.9L191.2 306.1M193.9 307.6L191.3 307.8M193.1 309.4L192.2 309.5M194.0 311.9L191.2 312.0M194.0 312.8L192.1 312.8M193.6 323.1L190.9 322.9M193.6 324.0L191.0 323.8M202.8 305.3L200.0 305.0M202.9 307.9L200.1 307.6M202.4 308.6L199.9 308.5M201.4 310.3L201.0 310.3M201.5 311.1L200.3 311.1M201.8 312.8L199.8 312.8M202.0 314.5L199.8 314.5M202.4 318.7L199.6 318.8M203.0 320.4L200.0 320.5M203.2 322.9L200.3 323.1M202.4 323.8L200.4 324.0M238.2 307.8L236.1 308.1M238.4 308.6L236.3 308.9M238.7 310.3L236.6 310.5M238.6 312.9L236.8 313.0M238.7 319.0L236.4 318.8M238.8 320.7L236.8 320.5M238.9 322.5L236.4 322.1M238.7 323.4L235.8 322.9M246.9 306.0L245.5 305.6M247.2 307.7L244.5 307.1M245.7 310.9L244.8 310.7M246.0 312.6L244.1 312.4M246.4 313.4L244.0 313.3M246.3 316.7L243.7 316.8M246.1 317.5L244.2 317.7M246.5 319.9L244.3 320.3M247.1 320.7L244.0 321.2M247.2 323.1L244.9 323.8M44.8 351.9L43.2 352.0M44.9 353.6L43.1 353.7M44.9 356.2L42.9 356.2M45.1 357.9L42.3 357.9M45.4 359.6L42.1 359.6M45.1 360.4L42.5 360.5M44.9 363.0L42.6 363.0M45.0 363.8L42.8 363.9M45.2 366.4L42.9 366.4M53.6 348.5L50.7 348.6M53.7 349.3L51.2 349.4M53.2 353.6L52.0 353.7M53.7 356.2L51.5 356.2M54.2 358.7L51.6 358.8M54.1 359.5L51.6 359.6M54.3 362.1L51.7 362.2M54.5 364.6L51.5 364.7M77.5 348.6L75.5 349.0M78.2 358.2L76.0 358.1M77.9 361.6L76.2 361.5M78.2 363.4L75.6 363.1M77.9 365.9L75.7 365.7M88.0 349.2L85.6 349.2M87.4 354.3L86.3 354.3M87.4 355.1L86.4 355.1M88.2 357.7L85.1 357.7M87.6 358.6L85.5 358.6M87.8 360.2L85.6 360.2M88.0 362.8L85.9 362.8M88.1 364.5L85.7 364.5M87.9 365.4L85.8 365.4M112.9 353.9L110.5 353.1M112.7 354.7L110.7 354.0M112.1 356.2L110.0 355.7M111.5 356.9L110.3 356.7M112.2 359.3L109.6 359.4M112.8 362.4L110.1 363.0M112.4 363.3L110.2 363.9M123.6 352.9L123.7 351.5M123.6 353.5L122.2 352.0M122.0 355.5L120.3 353.7M121.6 355.4L120.7 355.3M121.7 358.0L119.5 357.7M122.5 359.7L121.2 360.5M124.0 361.5L122.6 362.8M124.8 361.9L123.5 363.2M125.9 363.8L124.2 364.3M125.7 364.7L124.0 365.2M146.7 351.5L143.9 351.9M146.4 355.0L145.0 355.1M146.5 355.9L145.2 355.9M147.3 357.6L144.7 357.6M146.8 360.2L144.9 360.1M146.8 361.1L144.5 360.9M147.2 363.7L143.9 363.3M156.8 351.1L154.4 351.6M157.0 355.5L155.2 355.6M156.6 356.4L155.9 356.4M157.1 358.9L155.3 358.9M157.2 359.8L155.2 359.7M157.3 362.5L155.0 362.2M157.1 363.3L154.9 363.0M156.6 365.0L154.8 364.7M179.1 351.1L177.2 351.2M179.1 352.0L176.3 352.1M179.3 358.8L176.9 358.9M180.1 360.5L177.1 360.6M179.5 362.2L177.3 362.3M180.2 363.9L177.3 364.0M179.2 364.7L177.3 364.8M188.6 354.5L185.3 354.1M187.9 355.3L186.1 355.1M187.5 356.9L185.6 356.8M187.9 360.2L185.3 360.3M187.8 361.0L186.0 361.2M188.2 362.6L185.8 362.9M188.2 365.1L185.9 365.6M209.7 351.5L208.3 351.2M209.9 352.3L207.5 352.0M209.5 356.5L207.5 356.4M209.5 358.9L207.6 359.0M210.0 363.1L207.6 363.3M209.8 363.9L207.7 364.2M210.0 365.5L207.6 365.9M219.5 350.8L217.4 350.9M219.8 352.5L217.7 352.6M219.4 354.2L217.2 354.3M220.0 357.6L217.8 357.7M220.2 365.3L217.3 365.3M242.1 353.4L239.3 353.4M240.8 354.2L239.7 354.2M241.8 355.9L239.2 355.9M241.7 358.5L239.5 358.5M242.1 361.9L239.2 361.9M242.1 363.6L238.9 363.6M250.8 350.8L248.5 350.9M250.4 351.7L248.0 351.7M251.0 353.3L247.7 353.5M251.1 354.2L248.6 354.3M250.9 355.9L248.7 356.0M250.9 358.4L248.7 358.6M251.2 360.1L248.9 360.3M250.9 360.3L249.3 361.6M251.9 361.7L250.2 363.1M253.3 363.3L252.5 364.9M254.0 363.8L253.1 365.5M47.7 388.8L45.6 388.7M47.3 390.5L45.5 390.4M47.2 393.0L45.2 393.0M47.8 393.9L45.4 393.8M47.8 395.6L44.8 395.5M47.2 397.3L45.4 397.2M47.7 398.1L44.9 398.1M48.3 399.9L44.8 399.8M56.5 389.8L53.2 389.8M55.9 390.7L54.0 390.7M56.3 395.8L53.6 395.8M56.4 398.3L53.6 398.3M86.0 392.3L83.2 392.4M85.7 393.2L83.5 393.3M86.7 396.6L83.6 396.7M86.5 399.1L84.2 399.2M86.0 400.0L84.0 400.0M95.2 389.0L93.0 389.1M94.4 391.6L93.2 391.6M95.8 393.3L93.0 393.3M95.4 394.1L92.9 394.2M95.6 396.7L92.9 396.7M95.2 399.2L93.2 399.3M95.3 400.1L93.3 400.1M124.5 389.1L122.6 389.2M124.3 391.7L123.4 391.7M124.8 394.2L122.5 394.3M125.4 397.6L122.2 397.7M133.5 388.0L131.1 388.1M133.2 390.5L131.8 390.6M133.9 393.1L131.2 393.2M134.7 393.9L131.3 394.0M134.4 395.6L131.4 395.7M134.2 398.1L131.2 398.3M134.2 399.0L131.3 399.1M164.0 392.8L160.6 392.7M163.5 393.7L160.4 393.6M163.2 396.2L160.6 396.1M163.4 397.1L160.7 397.0M163.0 398.8L160.4 398.7M163.3 399.6L160.4 399.5M172.8 388.1L170.9 388.0M173.7 388.9L170.4 388.9M173.2 393.2L171.2 393.2M173.0 394.0L170.4 394.0M173.4 396.6L170.7 396.5M173.5 397.4L170.7 397.4M172.7 400.0L170.4 399.9M203.1 390.7L201.1 390.6M203.0 391.5L201.5 391.5M203.3 394.1L200.8 394.0M203.8 396.6L200.6 396.5M203.7 397.5L200.9 397.4M203.1 400.0L200.8 399.9M213.1 389.9L210.6 389.9M212.7 391.6L211.1 391.6M213.0 395.0L210.1 395.0M213.2 395.9L210.5 395.8M213.2 397.6L210.1 397.5M242.5 389.2L240.2 389.1M242.2 390.8L239.8 390.8M242.6 393.4L239.5 393.3M242.1 394.2L239.5 394.1M242.4 397.7L239.9 397.6M241.9 400.2L239.5 400.1M250.8 388.2L248.9 388.3M251.4 389.0L248.9 389.1M250.2 390.8L249.8 390.8M251.0 394.2L248.5 394.2M251.3 396.7L248.8 396.8M251.7 397.5L248.7 397.6M250.9 400.1L249.3 400.1M49.5 433.4L45.8 433.4M48.7 436.8L46.0 436.8M48.8 439.3L46.1 439.3M57.7 433.1L54.4 433.1M57.8 433.9L54.5 433.9M57.7 435.6L54.4 435.6M57.1 438.1L55.2 438.1M86.2 432.4L83.3 432.4M86.0 433.2L83.7 433.2M86.6 436.6L83.2 436.6M86.3 439.1L83.4 439.1M93.8 433.8L92.0 433.8M94.1 434.6L92.5 434.6M94.8 437.1L91.8 437.1M94.1 438.0L92.0 438.0M124.1 435.1L121.5 435.1M124.2 436.8L121.4 436.8M123.8 437.6L121.9 437.6M124.5 439.3L121.4 439.3M131.8 434.8L129.5 434.8M131.9 435.6L129.2 435.6M160.7 431.9L158.1 431.9M160.0 434.4L158.6 434.4M160.0 435.2L157.8 435.2M160.7 437.8L157.9 437.8M168.7 431.6L166.2 431.6M168.5 436.6L166.1 436.6M168.6 439.2L165.3 439.2M200.4 421.8L198.2 422.0M201.1 425.3L198.0 425.3M200.6 427.0L197.8 426.9M200.2 427.9L198.4 427.8M200.5 431.4L197.8 431.1M200.3 434.0L197.4 433.6M199.6 434.8L196.9 434.3M198.9 437.3L196.5 436.7M198.2 438.9L196.5 438.4M209.6 422.9L208.7 422.6M209.6 425.6L207.5 424.9M208.7 428.8L206.3 428.1M208.9 429.8L206.1 428.9M207.7 431.2L206.9 432.0M208.7 431.4L207.6 432.5M210.3 432.1L211.2 433.5M211.6 430.9L212.5 432.5M211.7 430.4L213.9 432.1M212.9 429.1L214.7 430.6" stroke="#cfcfcf"/>
<path d="M48.9 300.5L47.7 300.5M53.2 302.2L52.1 302.2M49.0 302.2L48.0 302.2M52.6 303.9L51.5 303.9M52.9 305.7L47.7 305.5M52.3 306.5L47.9 306.4M49.2 307.3L48.0 307.2M51.9 309.1L48.9 308.9M52.1 309.9L48.8 309.8M52.2 311.7L51.2 311.6M49.1 311.5L48.1 311.4M52.5 314.2L47.2 313.9M52.3 315.1L47.2 314.8M52.4 316.0L51.3 315.9M52.0 317.7L47.1 317.3M52.6 318.6L47.2 318.1M48.4 319.1L47.3 319.0M51.5 321.9L50.4 321.8M62.3 295.2L59.3 295.2M63.1 297.8L58.5 297.7M59.5 300.3L58.5 300.3M63.0 301.2L61.9 301.2M63.0 303.7L58.7 303.6M63.3 307.2L58.3 307.0M59.5 307.9L58.5 307.9M62.6 309.7L59.3 309.6M62.5 310.6L58.5 310.4M62.8 311.5L61.9 311.4M62.8 314.0L58.1 313.8M63.0 316.6L58.0 316.3M62.4 317.4L61.2 317.3M58.8 317.2L57.6 317.1M62.4 321.7L61.4 321.6M61.9 322.5L57.3 322.2M61.8 323.4L57.5 323.0M61.7 324.2L60.8 324.2M58.4 323.9L57.4 323.9M96.9 298.4L93.6 300.3M97.3 299.2L93.9 301.2M98.9 300.5L94.1 302.7M96.3 303.5L95.3 304.0M99.8 303.2L98.8 303.5M100.4 305.7L96.1 307.0M101.3 306.6L100.1 306.9M97.2 307.4L96.1 307.6M100.7 307.6L96.7 308.4M100.4 309.6L97.2 309.8M101.0 310.4L97.1 310.7M101.2 311.2L96.6 311.5M101.3 312.3L96.4 312.1M97.6 316.3L96.4 316.1M100.5 320.4L95.4 319.1M99.3 323.0L94.9 321.3M99.3 323.9L94.6 322.1M98.9 324.9L94.9 323.0M98.6 325.6L94.4 323.7M98.2 326.4L97.2 325.9M109.7 299.6L105.7 300.6M110.5 300.3L106.2 301.4M110.5 301.3L105.6 302.2M107.3 303.6L106.3 303.8M111.6 304.7L110.7 304.8M111.3 305.6L110.3 305.7M111.7 306.6L106.3 307.0M111.5 307.4L106.6 307.8M111.0 309.2L107.9 309.4M111.2 310.1L107.3 310.2M111.1 311.0L107.2 311.1M112.2 313.6L107.0 313.5M112.0 314.5L107.3 314.3M111.8 315.4L106.4 315.0M112.0 316.3L106.8 315.9M111.8 317.1L106.8 316.8M111.5 318.0L107.1 317.6M112.0 319.0L106.6 318.3M110.8 323.3L109.6 323.0M153.8 305.2L149.7 304.9M150.4 305.8L149.2 305.7M153.6 307.7L148.9 307.4M153.4 308.6L149.4 308.3M153.8 309.5L149.4 309.1M153.4 311.2L149.5 310.8M152.3 311.9L151.3 311.8M152.9 312.8L149.7 312.5M152.7 314.4L148.9 312.4M152.8 315.4L151.7 314.9M152.1 316.0L148.6 314.2M151.6 316.7L150.7 316.3M149.8 318.8L148.8 314.2M148.9 318.7L147.9 314.0M147.3 315.4L147.1 314.4M143.9 318.9L144.1 318.0M144.4 315.7L144.5 314.8M160.1 301.5L157.5 301.5M160.9 304.0L156.4 304.1M161.2 305.7L156.4 305.8M161.2 306.5L156.2 306.7M161.6 307.4L156.3 307.5M161.5 309.9L156.7 310.0M161.3 310.8L156.0 310.9M161.0 311.6L156.7 311.7M157.8 313.4L156.8 313.4M161.4 317.6L157.0 317.7M161.4 318.4L156.6 318.6M161.0 319.3L159.9 319.3M157.7 319.4L156.6 319.4M161.1 321.0L157.0 321.1M161.0 321.8L156.9 321.9M157.7 324.5L156.7 324.5M161.1 325.2L156.9 325.3M161.0 326.1L157.8 326.2M193.5 303.4L190.7 303.6M194.7 305.0L190.0 305.4M194.8 305.9L193.8 305.9M194.1 310.2L191.4 310.3M194.7 311.1L190.5 311.2M194.9 311.9L194.0 311.9M195.3 313.7L190.8 313.7M195.0 314.5L190.9 314.5M195.2 317.1L190.5 317.1M195.1 318.9L190.2 318.7M195.2 319.8L190.5 319.5M195.2 320.6L190.6 320.4M195.1 321.5L189.8 321.2M195.3 322.4L190.0 322.0M194.5 323.2L193.6 323.1M190.9 322.9L190.0 322.8M191.0 323.8L189.9 323.7M200.0 305.0L198.9 304.9M203.7 307.1L199.4 306.7M200.3 311.1L199.2 311.0M203.4 312.1L199.1 311.9M203.1 312.8L201.8 312.8M203.8 313.7L198.8 313.6M203.2 316.2L198.9 316.2M203.4 317.0L198.3 317.1M203.4 318.7L202.4 318.7M203.4 319.5L198.8 319.8M204.1 320.3L203.0 320.4M204.2 322.8L203.2 322.9M200.3 323.1L199.3 323.2M203.6 323.7L202.4 323.8M204.2 324.4L199.2 325.0M239.0 305.8L234.9 306.7M239.1 306.7L234.9 307.5M240.0 309.3L235.1 309.8M239.5 312.0L235.9 312.2M236.8 313.0L235.6 313.1M239.9 313.8L235.3 313.9M240.3 314.6L235.8 314.7M240.5 315.6L235.6 315.5M240.3 316.4L235.4 316.3M240.2 318.2L235.5 317.9M239.9 320.0L235.8 319.6M236.8 320.5L235.8 320.4M239.8 321.8L234.8 321.0M239.8 322.7L238.9 322.5M239.6 323.5L238.7 323.4M248.0 306.3L246.9 306.0M244.5 307.1L243.6 306.9M247.0 310.2L243.3 309.6M244.0 313.3L242.9 313.3M247.2 315.8L242.8 316.0M247.3 316.7L246.3 316.7M247.3 317.4L246.1 317.5M244.2 317.7L243.0 317.8M247.6 318.9L243.4 319.6M247.7 319.7L246.5 319.9M244.3 320.3L243.1 320.5M248.0 321.3L243.7 322.2M248.7 322.0L243.7 323.1M248.2 322.8L247.2 323.1M46.2 351.0L41.0 351.2M43.2 352.0L41.9 352.0M46.2 352.7L41.5 352.8M46.4 358.7L41.4 358.8M46.3 359.5L45.4 359.6M42.1 359.6L41.2 359.7M45.9 361.3L41.4 361.4M42.6 363.0L41.7 363.0M46.1 363.8L45.0 363.8M42.8 363.9L41.7 363.9M46.6 365.5L41.7 365.6M54.6 347.6L50.4 347.8M55.0 351.0L49.8 351.2M55.4 351.8L50.2 352.0M54.1 353.6L53.2 353.6M54.4 354.4L50.8 354.6M54.9 355.3L50.2 355.4M54.8 356.1L53.7 356.2M55.4 358.6L54.2 358.7M55.6 360.3L50.4 360.5M51.5 364.7L50.5 364.8M78.6 348.5L77.5 348.6M79.2 351.1L74.4 351.7M79.5 352.8L74.5 353.3M78.9 353.7L74.7 354.1M78.3 354.7L75.2 354.8M78.9 355.5L75.4 355.7M79.4 356.4L74.8 356.5M79.6 357.3L75.1 357.3M79.2 359.0L74.6 359.0M79.4 359.9L74.3 359.8M79.2 361.7L77.9 361.6M79.2 363.5L78.2 363.4M75.6 363.1L74.6 363.0M78.9 366.1L77.9 365.9M89.1 351.8L84.1 351.8M88.4 354.3L87.4 354.3M89.4 359.4L84.4 359.4M85.6 360.2L84.6 360.2M89.0 361.1L84.0 361.1M88.9 361.9L84.8 361.9M85.8 365.4L84.8 365.4M89.2 366.2L84.4 366.2M88.4 367.1L85.4 367.1M113.9 354.2L112.9 353.9M110.7 354.0L109.6 353.7M113.6 355.7L109.3 354.7M113.1 356.5L112.1 356.2M110.3 356.7L109.4 356.6M113.3 359.2L112.2 359.3M112.7 360.1L108.4 360.3M113.0 360.8L108.8 361.4M113.1 361.6L109.2 362.2M110.1 363.0L109.2 363.2M113.6 363.7L109.6 365.1M114.1 364.2L109.5 366.3M124.3 354.8L124.7 350.3M123.7 351.5L123.8 350.3M123.0 355.3L120.2 352.3M120.7 355.3L119.4 355.2M122.2 356.3L119.7 356.1M122.5 357.2L119.3 356.9M122.6 358.1L121.7 358.0M124.5 359.9L121.3 362.9M124.9 360.7L124.0 361.5M123.5 363.2L122.6 364.0M126.1 361.9L123.0 364.7M124.2 364.3L123.0 364.7M126.9 365.3L123.8 366.2M147.8 352.2L143.3 352.8M147.9 353.2L143.1 353.6M148.0 354.0L143.8 354.4M145.2 355.9L144.2 356.0M148.1 361.1L146.8 361.1M148.2 362.9L143.4 362.5M148.1 363.9L147.2 363.7M154.4 351.6L153.4 351.8M158.1 351.7L153.3 352.6M155.2 355.6L154.1 355.7M158.9 357.2L154.2 357.3M158.5 358.0L154.4 358.1M158.3 359.0L157.1 358.9M155.3 358.9L154.1 358.9M158.4 359.8L157.2 359.8M155.0 362.2L153.8 362.0M154.9 363.0L153.9 362.9M154.8 364.7L153.6 364.4M157.5 366.1L153.3 365.2M157.1 366.9L154.0 366.2M180.2 351.1L179.1 351.1M179.8 355.4L176.5 355.5M180.6 356.2L175.5 356.4M180.5 357.0L175.2 357.3M180.9 361.3L176.4 361.5M180.3 364.7L179.2 364.7M189.7 352.4L185.7 351.4M189.1 353.0L185.1 352.3M189.7 354.0L184.9 353.1M189.6 354.7L188.6 354.5M186.1 355.1L185.0 354.9M188.3 356.1L185.5 355.9M188.5 357.0L187.5 356.9M185.6 356.8L184.6 356.7M189.0 359.4L184.7 359.5M189.0 360.2L187.9 360.2M186.0 361.2L184.7 361.3M189.5 362.5L188.2 362.6M210.4 350.7L207.5 350.2M211.2 353.3L205.9 352.7M210.7 354.1L206.2 353.6M210.7 354.9L206.0 354.5M207.5 356.4L206.4 356.3M209.9 357.3L206.7 357.2M210.6 358.1L205.6 358.1M211.1 360.5L205.9 360.8M211.1 361.4L205.8 361.6M210.6 362.2L206.1 362.6M207.6 363.3L206.6 363.4M207.7 364.2L206.5 364.3M217.7 352.6L216.4 352.6M220.7 353.3L216.1 353.5M217.2 354.3L216.1 354.3M221.2 355.0L216.2 355.2M220.7 355.9L216.3 356.0M220.2 356.8L217.0 356.8M221.0 358.4L216.4 358.6M221.2 359.3L216.5 359.4M220.8 362.7L216.5 362.8M221.1 363.5L216.4 363.7M221.6 364.4L216.2 364.5M220.7 366.1L217.0 366.2M220.6 367.0L217.7 367.0M242.5 350.9L239.0 350.9M243.3 351.7L238.1 351.7M242.9 358.5L241.7 358.5M242.9 361.1L238.2 361.1M243.2 361.9L242.1 361.9M239.2 361.9L238.1 361.9M238.9 363.6L237.9 363.6M243.1 364.4L238.5 364.4M242.9 365.3L238.5 365.3M251.0 349.9L248.1 350.0M251.6 351.6L250.4 351.7M251.9 353.3L251.0 353.3M250.6 355.1L248.0 355.1M251.9 355.9L250.9 355.9M248.7 358.6L247.6 358.7M252.2 359.1L247.5 359.5M248.9 360.3L247.7 360.4M253.5 361.5L249.9 364.4M253.1 361.9L251.0 365.9M253.9 362.2L253.3 363.3M252.5 364.9L251.9 366.1M48.9 388.8L47.7 388.8M45.6 388.7L44.4 388.7M45.5 390.4L44.2 390.4M48.9 392.2L43.8 392.1M48.8 393.9L47.8 393.9M48.9 395.6L47.8 395.6M48.4 396.5L43.9 396.3M48.5 397.3L47.2 397.3M45.4 397.2L44.2 397.2M48.7 398.2L47.7 398.1M49.0 399.0L44.1 398.9M44.8 399.8L43.9 399.7M56.3 388.1L53.4 388.1M56.9 389.0L52.9 389.0M53.2 389.8L52.1 389.8M57.4 393.2L52.3 393.2M57.2 394.1L52.6 394.1M57.4 394.9L53.0 394.9M57.2 395.8L56.3 395.8M57.3 396.6L52.8 396.6M57.3 397.5L53.0 397.5M53.6 398.3L52.3 398.3M57.5 399.2L52.6 399.2M57.5 400.0L53.0 400.0M56.9 400.9L53.4 400.9M86.6 388.0L83.3 388.2M87.2 388.9L82.8 389.0M87.3 389.7L82.3 389.9M86.5 391.5L83.2 391.6M87.5 394.8L82.0 395.0M87.4 395.7L82.4 395.9M87.7 396.5L86.7 396.6M87.5 398.2L82.4 398.4M87.2 399.9L86.0 400.0M86.9 400.8L83.3 400.9M96.6 389.8L91.2 390.0M96.5 390.7L91.7 390.8M93.2 391.6L92.2 391.7M96.2 392.4L91.8 392.5M96.4 394.1L95.4 394.1M96.7 396.6L95.6 396.7M96.5 400.0L95.3 400.1M96.3 400.9L93.0 401.0M126.1 392.5L120.7 392.6M125.6 393.4L121.3 393.4M122.5 394.3L121.2 394.3M126.0 396.8L121.6 396.8M126.6 397.6L125.4 397.6M122.2 397.7L121.1 397.7M126.1 398.5L121.8 398.5M126.3 399.3L121.8 399.4M131.1 388.1L130.1 388.1M134.6 388.8L130.3 388.9M134.7 389.6L130.5 389.8M135.1 393.0L133.9 393.1M135.7 393.8L134.7 393.9M131.3 394.0L130.2 394.1M135.3 398.1L134.2 398.1M131.3 399.1L130.3 399.2M163.5 388.6L160.6 388.5M164.4 389.5L159.9 389.3M164.6 390.3L160.3 390.1M164.2 391.1L160.0 391.0M163.6 392.0L160.4 391.9M160.6 392.7L159.7 392.7M164.6 395.4L159.6 395.2M164.6 397.1L163.4 397.1M160.7 397.0L159.6 396.9M164.1 398.8L163.0 398.8M173.7 387.2L170.5 387.2M170.4 388.9L169.3 388.9M173.1 390.6L170.2 390.6M174.2 392.3L169.9 392.3M174.0 394.0L173.0 394.0M170.4 394.0L169.5 394.0M174.2 394.9L169.4 394.8M174.4 395.7L169.2 395.7M173.7 400.8L170.1 400.8M204.5 389.8L200.4 389.7M204.3 390.7L203.1 390.7M201.5 391.5L200.4 391.4M200.8 394.0L199.9 394.0M204.6 394.9L200.3 394.8M204.9 395.8L199.7 395.7M204.1 399.2L199.8 399.1M203.8 400.9L200.8 400.8M213.8 388.2L209.2 388.2M213.7 389.1L209.3 389.0M213.3 390.8L210.4 390.7M214.1 392.5L209.6 392.4M214.1 393.3L209.1 393.3M214.3 394.2L209.1 394.1M214.2 395.0L213.0 395.0M214.2 395.9L213.2 395.9M210.5 395.8L209.5 395.8M214.2 398.4L209.2 398.4M213.8 399.3L208.9 399.2M214.2 400.1L209.5 400.1M240.2 389.1L239.2 389.0M243.3 390.9L242.2 390.8M243.6 393.4L242.6 393.4M243.3 394.3L242.1 394.2M243.2 396.8L238.6 396.7M243.5 397.7L242.4 397.7M239.9 397.6L238.8 397.5M251.2 387.3L248.5 387.4M248.9 389.1L247.7 389.1M251.3 390.7L250.2 390.8M252.2 394.1L251.0 394.2M252.6 395.8L247.5 395.9M252.5 396.7L251.3 396.7M252.4 398.4L247.5 398.5M252.2 399.2L247.8 399.3M252.0 400.9L248.8 401.0M49.6 435.9L44.8 435.9M57.2 432.2L54.3 432.2M58.8 433.9L57.8 433.9M54.5 433.9L53.5 433.9M58.8 439.0L53.4 439.0M86.3 431.5L82.9 431.5M87.1 432.4L86.2 432.4M83.3 432.4L82.4 432.4M86.7 435.8L82.4 435.8M87.2 437.4L82.0 437.4M86.7 438.3L82.3 438.3M83.4 439.1L82.3 439.1M95.6 432.1L90.1 432.1M95.8 432.9L90.6 432.9M91.8 437.1L90.8 437.1M125.0 435.1L124.1 435.1M121.5 435.1L120.6 435.1M125.3 436.8L124.2 436.8M121.4 436.8L120.3 436.8M125.1 437.6L123.8 437.6M121.9 437.6L120.6 437.6M132.2 433.9L129.0 433.9M132.8 434.8L131.8 434.8M132.7 436.4L128.1 436.4M133.0 437.3L128.3 437.3M132.5 438.1L127.9 438.1M133.1 439.0L127.9 439.0M132.3 439.8L128.9 439.8M161.0 434.4L160.0 434.4M157.9 437.8L157.0 437.8M162.1 438.6L156.8 438.6M161.5 439.5L157.2 439.5M168.8 430.7L165.7 430.7M166.2 431.6L164.9 431.6M169.7 435.8L164.3 435.8M202.0 422.6L196.6 422.9M201.5 423.5L196.5 423.8M201.8 424.4L196.4 424.5M202.2 425.2L201.1 425.3M201.7 426.2L196.5 426.1M201.4 430.6L197.0 430.1M200.9 433.2L196.2 432.5M201.5 434.2L200.3 434.0M197.4 433.6L196.2 433.4M200.3 436.8L195.9 435.7M196.5 436.7L195.4 436.5M196.5 438.4L195.3 438.1M210.7 423.2L209.6 422.9M208.7 422.6L207.5 422.3M210.7 425.0L206.8 423.8M210.7 425.9L209.6 425.6M210.3 427.6L206.0 426.2M209.9 430.1L208.9 429.8M208.4 430.5L207.7 431.2M206.9 432.0L206.2 432.7M208.7 431.1L211.2 435.2M210.2 430.3L212.6 434.3M211.0 429.9L211.6 430.9M212.8 427.9L215.6 430.1" stroke="#6e6e6e"/>
<path d="M52.3 295.4L49.0 295.4M52.3 296.2L48.6 296.3M52.8 297.1L48.3 297.1M52.7 297.9L47.7 298.0M53.2 298.8L47.7 298.8M53.0 299.7L47.9 299.6M53.0 300.5L51.8 300.5M53.3 301.4L47.8 301.3M52.7 303.1L47.8 303.0M49.4 303.9L48.2 303.9M52.8 304.8L48.1 304.7M52.5 307.4L51.3 307.3M51.9 308.2L51.0 308.2M48.9 308.1L48.0 308.1M52.3 310.8L51.0 310.7M49.5 310.7L48.2 310.6M52.4 312.5L47.5 312.3M52.3 313.4L51.1 313.3M49.0 313.2L47.8 313.1M48.5 315.7L47.4 315.6M51.9 316.8L47.5 316.5M51.8 319.4L50.8 319.3M51.4 320.2L47.1 319.8M51.6 321.1L50.7 321.0M48.1 320.8L47.1 320.7M48.2 321.6L47.1 321.5M51.9 322.8L47.0 322.4M52.2 323.7L46.7 323.2M51.9 324.5L46.6 324.0M51.3 325.3L47.0 324.9M50.9 326.1L47.3 325.8M50.8 327.0L47.3 326.6M62.7 296.1L59.0 296.0M62.8 296.9L61.5 296.9M60.0 296.9L58.7 296.9M63.0 298.6L58.7 298.6M63.5 299.5L58.3 299.4M63.7 300.3L62.7 300.3M59.7 301.1L58.6 301.1M63.7 302.1L58.6 301.9M63.4 302.9L57.9 302.8M63.5 304.6L58.3 304.5M63.4 305.5L62.3 305.4M59.3 305.3L58.1 305.3M63.1 306.3L58.6 306.2M63.0 308.0L62.0 308.0M62.4 308.9L61.1 308.8M60.1 308.8L58.9 308.7M59.4 311.3L58.5 311.2M62.6 312.3L57.9 312.1M62.6 313.2L58.0 312.9M63.0 314.9L57.7 314.6M62.8 315.7L61.6 315.7M58.6 315.5L57.4 315.4M62.7 318.3L61.6 318.2M59.3 318.1L58.1 318.0M62.5 319.1L57.3 318.8M62.4 320.0L57.6 319.7M62.5 320.9L61.4 320.8M59.2 320.6L58.1 320.5M58.2 321.4L57.1 321.3M61.5 325.1L57.5 324.7M61.2 325.9L57.7 325.6M61.3 326.8L58.0 326.5M96.5 297.7L93.6 299.3M97.9 299.8L96.9 300.4M95.0 301.5L94.0 302.1M99.4 301.2L94.6 303.4M99.2 302.3L98.2 302.7M96.7 304.2L95.7 304.5M100.5 303.9L95.6 305.4M100.5 304.8L95.4 306.4M100.8 308.5L97.0 309.2M101.1 313.2L96.7 313.0M101.7 314.0L97.0 313.8M101.8 314.9L96.6 314.7M101.5 316.0L100.3 315.8M97.6 315.4L96.4 315.2M101.1 316.8L99.9 316.6M100.7 317.6L96.5 316.9M101.2 318.8L96.3 317.5M101.0 319.7L95.7 318.3M100.3 321.3L99.1 320.9M96.3 320.2L95.1 319.9M99.8 322.2L98.6 321.8M96.4 321.0L95.2 320.5M95.1 324.9L94.1 324.5M97.3 326.9L94.3 325.5M108.8 298.1L105.9 298.8M109.7 298.8L106.3 299.6M110.9 302.1L109.9 302.3M106.8 302.9L105.8 303.0M111.5 302.9L110.5 303.0M111.2 303.9L106.8 304.5M107.3 305.3L106.4 305.4M107.5 306.1L106.4 306.3M111.4 308.3L110.3 308.4M108.2 308.5L107.1 308.6M111.7 311.8L110.5 311.8M108.3 311.9L107.1 311.9M111.6 312.8L107.1 312.6M111.3 319.8L110.4 319.7M108.0 319.4L107.0 319.2M111.1 320.6L106.5 320.0M111.4 321.6L106.4 320.8M110.4 322.3L109.5 322.2M107.0 321.7L106.1 321.6M106.6 322.5L105.4 322.3M110.4 324.2L105.7 323.1M109.9 324.9L105.9 324.0M109.7 325.7L105.9 324.9M109.4 326.5L106.2 325.8M152.9 302.6L150.2 302.4M153.8 303.5L149.7 303.2M154.4 304.4L149.4 304.1M153.8 306.0L152.6 306.0M153.6 306.9L152.7 306.8M150.2 306.7L149.3 306.6M153.8 310.4L149.3 310.0M150.6 311.8L149.7 311.7M149.6 313.7L148.5 313.2M148.4 315.0L147.6 314.6M148.2 319.1L147.9 318.2M147.3 319.2L147.1 318.3M146.5 315.7L146.3 314.8M145.7 318.8L146.3 314.6M144.8 319.1L145.4 314.6M143.1 318.4L143.6 315.2M160.4 302.3L157.0 302.4M160.8 303.1L156.7 303.2M160.9 304.8L159.8 304.9M157.3 304.9L156.2 305.0M160.8 308.2L156.5 308.4M161.5 309.1L156.6 309.2M160.6 312.5L159.6 312.5M158.5 312.6L157.4 312.6M160.5 313.4L159.4 313.4M161.3 314.2L157.0 314.3M161.3 315.0L156.4 315.2M161.3 315.9L156.0 316.0M161.7 316.7L160.7 316.8M157.8 316.8L156.8 316.8M161.6 320.1L160.3 320.2M158.0 320.2L156.7 320.3M161.6 322.7L156.4 322.8M161.9 323.5L156.9 323.6M161.8 324.4L160.7 324.4M194.1 304.2L190.9 304.5M191.2 306.1L190.2 306.2M194.8 306.7L190.0 307.1M194.8 307.6L193.9 307.6M191.3 307.8L190.3 307.9M194.5 308.5L190.1 308.7M194.4 309.3L193.1 309.4M192.2 309.5L191.0 309.5M191.2 312.0L190.3 312.1M195.1 312.8L194.0 312.8M192.1 312.8L191.0 312.8M195.2 315.4L190.6 315.4M195.2 316.3L190.6 316.2M195.1 318.0L189.9 317.8M194.7 324.0L193.6 324.0M194.8 325.0L190.0 324.5M193.9 325.7L190.2 325.4M203.3 303.7L200.5 303.4M203.6 304.6L200.1 304.2M203.9 305.4L202.8 305.3M203.5 306.2L199.3 305.8M204.0 308.0L202.9 307.9M200.1 307.6L198.9 307.5M203.4 308.7L202.4 308.6M199.9 308.5L198.8 308.4M203.2 309.5L199.5 309.3M202.5 310.4L201.4 310.3M201.0 310.3L199.9 310.2M202.7 311.2L201.5 311.1M199.8 312.8L198.6 312.8M203.0 314.5L202.0 314.5M199.8 314.5L198.9 314.5M203.7 315.3L199.1 315.4M203.1 317.9L199.0 318.0M199.6 318.8L198.6 318.9M200.0 320.5L198.9 320.6M203.6 321.2L198.8 321.5M203.3 322.0L199.2 322.4M200.4 324.0L199.2 324.1M203.5 325.3L199.8 325.8M203.4 326.2L200.6 326.5M238.2 305.1L235.3 305.7M239.4 307.6L238.2 307.8M236.1 308.1L235.0 308.3M239.6 308.4L238.4 308.6M236.3 308.9L235.1 309.1M239.7 310.2L238.7 310.3M236.6 310.5L235.6 310.6M239.2 311.1L236.3 311.4M239.8 312.8L238.6 312.9M240.6 317.3L235.5 317.2M239.7 319.0L238.7 319.0M236.4 318.8L235.5 318.8M239.9 320.9L238.8 320.7M236.4 322.1L235.5 322.0M235.8 322.9L234.9 322.8M239.3 324.4L234.4 323.4M239.0 325.2L235.2 324.5M248.1 305.4L245.3 304.6M245.5 305.6L244.3 305.2M248.4 307.3L244.0 306.0M248.1 307.9L247.2 307.7M247.7 308.7L243.6 307.8M248.0 309.5L243.5 308.8M246.9 311.1L245.7 310.9M244.8 310.7L243.6 310.5M247.1 311.8L243.8 311.5M247.1 312.7L246.0 312.6M244.1 312.4L243.0 312.3M247.5 313.4L246.4 313.4M247.6 314.3L242.9 314.1M247.0 315.0L242.5 315.1M243.7 316.8L242.7 316.8M247.5 318.2L243.3 318.6M248.0 320.6L247.1 320.7M244.0 321.2L243.1 321.3M244.9 323.8L243.9 324.1M248.3 323.7L244.4 324.8M45.0 346.0L42.2 346.0M45.7 346.8L41.6 346.9M45.9 347.6L41.3 347.8M46.0 348.5L41.5 348.6M46.0 349.3L41.8 349.4M45.7 350.2L41.2 350.3M46.1 351.9L44.8 351.9M45.8 353.6L44.9 353.6M43.1 353.7L42.2 353.7M45.4 354.5L42.2 354.5M45.8 355.3L41.9 355.4M46.1 356.1L44.9 356.2M42.9 356.2L41.7 356.2M46.1 357.0L42.0 357.1M46.2 357.8L45.1 357.9M42.3 357.9L41.2 358.0M46.0 360.4L45.1 360.4M42.5 360.5L41.5 360.5M46.5 362.1L41.3 362.2M45.8 363.0L44.9 363.0M46.0 364.7L41.6 364.8M46.3 366.3L45.2 366.4M42.9 366.4L41.9 366.4M46.3 367.2L42.3 367.3M53.7 345.9L50.9 346.1M54.4 346.8L50.6 346.9M54.8 348.5L53.6 348.5M50.7 348.6L49.5 348.7M55.0 349.3L53.7 349.3M51.2 349.4L49.9 349.5M54.4 350.2L50.0 350.3M55.3 352.7L50.3 352.9M52.0 353.7L51.1 353.7M51.5 356.2L50.5 356.3M55.1 357.0L50.7 357.1M54.7 357.8L50.3 358.0M51.6 358.8L50.4 358.8M55.2 359.5L54.1 359.5M51.6 359.6L50.5 359.7M55.2 361.2L50.3 361.4M55.3 362.0L54.3 362.1M51.7 362.2L50.6 362.2M55.1 362.9L50.6 363.1M55.5 363.7L50.9 363.9M55.5 364.6L54.5 364.6M55.4 365.4L50.9 365.6M55.4 366.3L51.3 366.5M54.8 367.2L51.5 367.3M77.4 347.8L74.8 348.2M75.5 349.0L74.4 349.1M78.8 349.3L74.1 350.1M78.6 350.3L74.1 350.8M79.2 352.0L74.8 352.4M79.3 358.2L78.2 358.2M76.0 358.1L74.9 358.1M79.5 360.8L74.6 360.6M76.2 361.5L74.9 361.4M79.7 362.6L74.6 362.2M78.8 364.3L74.6 363.8M79.3 365.3L74.2 364.6M75.7 365.7L74.7 365.5M78.8 367.0L73.9 366.2M78.1 367.7L74.9 367.2M88.2 347.5L85.7 347.5M88.5 348.4L85.1 348.4M89.2 349.2L88.0 349.2M85.6 349.2L84.4 349.2M89.0 350.1L84.4 350.1M89.2 350.9L84.0 350.9M88.9 352.6L84.1 352.6M88.4 353.4L84.7 353.4M86.3 354.3L85.4 354.3M88.6 355.1L87.4 355.1M86.4 355.1L85.2 355.1M89.0 356.0L84.7 356.0M89.1 356.9L84.2 356.9M89.2 357.7L88.2 357.7M85.1 357.7L84.1 357.7M88.8 358.6L87.6 358.6M85.5 358.6L84.3 358.6M88.8 360.2L87.8 360.2M89.0 362.8L88.0 362.8M85.9 362.8L84.9 362.8M89.5 363.6L84.7 363.6M89.4 364.5L88.1 364.5M85.7 364.5L84.4 364.5M88.9 365.4L87.9 365.4M114.2 352.7L111.3 351.4M113.8 353.5L110.3 351.9M110.5 353.1L109.6 352.7M113.7 355.1L112.7 354.7M110.0 355.7L108.9 355.4M112.5 357.0L111.5 356.9M113.1 358.0L109.2 357.4M113.2 358.6L108.3 358.4M109.6 359.4L108.6 359.5M113.7 362.1L112.8 362.4M113.6 363.0L112.4 363.3M110.2 363.9L109.0 364.2M114.1 365.1L110.6 366.7M126.1 353.8L126.3 351.3M125.3 353.9L125.5 350.8M123.5 354.1L123.6 352.9M124.2 354.2L123.6 353.5M122.2 352.0L121.6 351.3M123.6 354.7L120.7 351.6M122.6 356.2L122.0 355.5M120.3 353.7L119.6 353.0M122.9 355.6L121.6 355.4M119.5 357.7L118.6 357.6M123.0 357.4L119.5 359.5M123.1 358.3L119.9 360.3M123.6 359.0L122.5 359.7M121.2 360.5L120.1 361.1M124.1 359.7L121.0 361.6M122.6 362.8L121.7 363.6M125.7 361.1L124.8 361.9M127.1 363.5L125.9 363.8M127.0 364.4L125.7 364.7M124.0 365.2L122.8 365.6M146.7 349.7L144.2 350.2M147.3 350.5L143.6 351.1M147.9 351.4L146.7 351.5M143.9 351.9L142.6 352.0M147.5 355.0L146.4 355.0M145.0 355.1L143.9 355.2M147.5 355.8L146.5 355.9M148.1 356.7L143.8 356.8M148.2 357.6L147.3 357.6M144.7 357.6L143.8 357.6M148.4 358.5L143.9 358.4M148.2 359.3L144.0 359.3M148.1 360.3L146.8 360.2M144.9 360.1L143.6 360.0M144.5 360.9L143.3 360.9M148.4 362.1L143.7 361.7M143.9 363.3L142.9 363.2M147.4 364.6L143.3 364.1M148.0 365.6L143.3 364.9M146.6 366.3L143.5 365.8M156.7 350.2L154.2 350.8M157.8 350.8L156.8 351.1M158.1 352.6L153.5 353.4M158.5 353.5L153.5 354.2M158.5 354.4L153.9 355.0M158.1 355.4L157.0 355.5M157.8 356.3L156.6 356.4M155.9 356.4L154.7 356.5M155.2 359.7L154.0 359.7M158.9 360.8L153.8 360.4M158.2 361.6L154.1 361.3M158.5 362.6L157.3 362.5M158.1 363.4L157.1 363.3M158.2 364.4L153.5 363.6M157.8 365.2L156.6 365.0M179.6 349.4L176.6 349.6M180.2 350.2L176.1 350.4M177.2 351.2L176.1 351.3M180.2 351.9L179.1 352.0M176.3 352.1L175.2 352.2M180.1 352.8L175.5 353.0M180.8 353.6L175.6 353.9M179.7 354.5L175.8 354.7M180.7 357.9L175.8 358.1M180.5 358.7L179.3 358.8M176.9 358.9L175.7 359.0M180.9 359.6L176.1 359.8M181.2 360.4L180.1 360.5M177.1 360.6L176.0 360.6M180.8 362.1L179.5 362.2M177.3 362.3L176.0 362.3M180.5 363.0L176.4 363.2M181.2 363.8L180.2 363.9M177.3 364.0L176.3 364.0M177.3 364.8L176.2 364.9M180.1 365.6L176.5 365.7M180.1 366.4L177.2 366.5M189.1 351.3L186.0 350.6M185.3 354.1L184.4 354.0M189.0 355.5L187.9 355.3M189.2 357.8L184.0 357.6M189.2 358.6L184.2 358.5M185.3 360.3L184.2 360.3M189.1 360.9L187.8 361.0M189.3 361.6L184.3 362.3M185.8 362.9L184.5 363.1M189.4 363.2L184.5 364.1M189.7 364.0L185.0 364.9M189.4 364.8L188.2 365.1M185.9 365.6L184.8 365.9M189.2 365.7L185.6 366.6M210.9 351.7L209.7 351.5M208.3 351.2L207.1 351.0M211.2 352.5L209.9 352.3M207.5 352.0L206.3 351.9M211.1 355.7L206.1 355.4M210.6 356.5L209.5 356.5M210.8 358.9L209.5 358.9M207.6 359.0L206.3 359.0M211.1 359.8L205.8 359.9M211.0 363.0L210.0 363.1M210.9 363.8L209.8 363.9M210.9 364.6L206.1 365.2M211.1 365.4L210.0 365.5M207.6 365.9L206.5 366.1M210.7 366.3L207.5 366.8M220.2 350.0L217.3 350.0M220.5 350.8L219.5 350.8M217.4 350.9L216.4 350.9M221.0 351.6L215.6 351.8M221.0 352.5L219.8 352.5M220.5 354.2L219.4 354.2M221.1 357.6L220.0 357.6M217.8 357.7L216.7 357.7M221.0 360.1L216.2 360.3M221.7 361.0L216.3 361.1M220.7 361.9L216.4 362.0M221.2 365.2L220.2 365.3M217.3 365.3L216.2 365.4M242.1 350.0L239.2 350.0M242.6 352.6L237.8 352.6M243.0 353.4L242.1 353.4M239.3 353.4L238.3 353.4M242.0 354.2L240.8 354.2M239.7 354.2L238.4 354.2M241.9 355.1L238.8 355.1M242.7 355.9L241.8 355.9M239.2 355.9L238.3 355.9M242.6 356.8L238.0 356.8M242.5 357.6L238.4 357.6M239.5 358.5L238.3 358.5M243.0 359.4L238.3 359.4M242.4 360.2L238.3 360.2M242.6 362.8L237.9 362.8M243.1 363.6L242.1 363.6M242.5 366.1L239.1 366.1M251.9 350.8L250.8 350.8M248.5 350.9L247.3 350.9M248.0 351.7L246.8 351.8M251.6 352.5L246.8 352.6M247.7 353.5L246.8 353.5M252.1 354.2L251.1 354.2M248.6 354.3L247.6 354.3M248.7 356.0L247.7 356.0M252.4 356.6L247.3 357.0M251.9 357.5L247.1 357.9M252.0 358.3L250.9 358.4M252.3 360.0L251.2 360.1M251.8 359.6L250.9 360.3M249.3 361.6L248.3 362.4M252.3 360.3L248.7 363.2M252.8 361.0L251.9 361.7M250.2 363.1L249.3 363.8M254.6 362.7L254.0 363.8M253.1 365.5L252.6 366.6M255.3 363.1L253.8 366.1M48.0 387.9L45.2 387.9M48.9 389.7L44.3 389.5M48.6 390.5L47.3 390.5M48.0 391.3L45.2 391.3M48.4 393.1L47.2 393.0M45.2 393.0L44.0 392.9M45.4 393.8L44.4 393.8M48.8 394.8L43.9 394.6M44.8 395.5L43.7 395.5M44.9 398.1L43.9 398.0M49.3 399.9L48.3 399.9M48.1 400.7L44.1 400.6M57.6 389.8L56.5 389.8M56.8 390.7L55.9 390.7M54.0 390.7L53.0 390.7M56.4 391.5L53.4 391.5M57.8 392.4L52.4 392.4M53.6 395.8L52.7 395.8M57.6 398.3L56.4 398.3M87.0 390.6L82.9 390.7M87.0 392.3L86.0 392.3M83.2 392.4L82.2 392.5M87.0 393.1L85.7 393.2M83.5 393.3L82.2 393.3M87.5 394.0L82.2 394.2M83.6 396.7L82.6 396.7M87.3 397.4L82.7 397.5M87.5 399.1L86.5 399.1M84.2 399.2L83.1 399.2M84.0 400.0L82.8 400.1M95.4 388.2L92.2 388.3M96.4 389.0L95.2 389.0M93.0 389.1L91.9 389.1M95.4 391.6L94.4 391.6M96.8 393.2L95.8 393.3M93.0 393.3L92.0 393.4M92.9 394.2L91.9 394.2M96.7 394.9L91.6 395.1M96.6 395.8L92.1 395.9M92.9 396.7L91.9 396.8M96.6 397.5L91.9 397.6M96.8 398.3L92.4 398.5M96.4 399.2L95.2 399.2M93.2 399.3L92.0 399.3M93.3 400.1L92.1 400.2M125.1 388.3L122.1 388.3M125.7 389.1L124.5 389.1M122.6 389.2L121.4 389.2M126.1 390.0L121.5 390.0M125.5 390.8L121.3 390.9M125.5 391.7L124.3 391.7M123.4 391.7L122.2 391.7M126.1 394.2L124.8 394.2M125.7 395.1L121.3 395.1M126.5 395.9L121.1 396.0M126.1 400.2L121.7 400.2M134.0 387.1L131.4 387.2M134.4 387.9L133.5 388.0M134.2 390.5L133.2 390.5M131.8 390.6L130.8 390.6M134.8 391.3L130.7 391.5M135.1 392.1L130.3 392.3M131.2 393.2L130.0 393.2M135.0 394.7L130.1 394.9M135.6 395.5L134.4 395.6M131.4 395.7L130.2 395.8M135.3 396.4L130.5 396.6M135.4 397.2L130.1 397.5M131.2 398.3L130.1 398.3M135.2 399.0L134.2 399.0M135.3 399.8L130.3 400.0M134.7 400.7L131.2 400.8M164.9 392.9L164.0 392.8M164.4 393.7L163.5 393.7M160.4 393.6L159.5 393.5M164.6 394.6L159.4 394.4M164.2 396.3L163.2 396.2M160.6 396.1L159.5 396.1M164.5 398.0L159.7 397.8M160.4 398.7L159.4 398.6M164.6 399.7L163.3 399.6M160.4 399.5L159.2 399.5M163.8 400.5L160.1 400.3M173.9 388.1L172.8 388.1M170.9 388.0L169.7 388.0M174.8 388.9L173.7 388.9M174.3 389.8L169.1 389.7M174.1 391.5L169.6 391.4M174.4 393.2L173.2 393.2M171.2 393.2L170.0 393.1M174.4 396.6L173.4 396.6M170.7 396.5L169.7 396.5M174.6 397.4L173.5 397.4M170.7 397.4L169.6 397.4M174.2 398.3L170.0 398.2M174.4 399.1L169.0 399.1M173.9 400.0L172.7 400.0M170.4 399.9L169.2 399.9M204.1 389.0L201.1 388.9M201.1 390.6L199.9 390.6M204.1 391.5L203.0 391.5M204.5 392.4L200.5 392.3M205.3 393.3L199.9 393.1M204.2 394.1L203.3 394.1M204.9 396.7L203.8 396.6M200.6 396.5L199.5 396.5M205.0 397.5L203.7 397.5M200.9 397.4L199.6 397.4M204.6 398.3L200.2 398.2M204.2 400.0L203.1 400.0M200.8 399.9L199.7 399.9M213.1 387.4L210.3 387.3M214.3 389.9L213.1 389.9M210.6 389.9L209.4 389.9M213.9 391.6L212.7 391.6M211.1 391.6L209.9 391.6M210.1 395.0L208.9 395.0M213.8 396.7L209.0 396.7M214.4 397.6L213.2 397.6M210.1 397.5L208.9 397.5M213.6 401.0L210.3 400.9M243.3 388.3L239.9 388.2M243.4 389.2L242.5 389.2M243.7 390.0L238.8 389.9M239.8 390.8L238.7 390.7M242.7 391.7L239.4 391.6M243.9 392.6L238.8 392.4M239.5 393.3L238.4 393.2M239.5 394.1L238.2 394.1M243.7 395.2L238.9 395.0M243.3 396.0L238.6 395.8M242.9 398.5L238.5 398.4M243.6 399.4L238.7 399.2M243.1 400.2L241.9 400.2M239.5 400.1L238.4 400.1M242.6 401.1L239.3 400.9M252.0 388.2L250.8 388.2M248.9 388.3L247.7 388.3M252.6 389.0L251.4 389.0M252.1 389.9L247.7 390.0M249.8 390.8L248.7 390.8M252.5 391.6L247.8 391.7M252.3 392.4L247.6 392.5M252.2 393.3L247.8 393.4M248.5 394.2L247.3 394.2M252.7 395.0L247.8 395.1M248.8 396.8L247.6 396.8M252.7 397.5L251.7 397.5M248.7 397.6L247.7 397.6M252.1 400.1L250.9 400.1M249.3 400.1L248.1 400.2M48.7 432.5L45.5 432.5M50.4 433.4L49.5 433.4M45.8 433.4L44.9 433.4M49.4 434.2L44.9 434.2M49.3 435.1L45.9 435.1M49.7 436.8L48.7 436.8M46.0 436.8L44.9 436.8M49.7 437.6L44.8 437.6M49.7 438.4L45.4 438.4M49.8 439.3L48.8 439.3M46.1 439.3L45.0 439.3M58.8 433.1L57.7 433.1M54.4 433.1L53.3 433.1M57.5 434.8L53.8 434.8M58.8 435.6L57.7 435.6M54.4 435.6L53.3 435.6M57.9 436.4L53.4 436.4M58.3 437.3L53.6 437.3M58.3 438.1L57.1 438.1M55.2 438.1L54.0 438.1M57.4 439.8L54.2 439.8M87.2 433.2L86.0 433.2M83.7 433.2L82.5 433.2M86.4 434.1L82.5 434.1M86.9 434.9L82.6 434.9M87.6 436.6L86.6 436.6M83.2 436.6L82.1 436.6M87.5 439.1L86.3 439.1M86.3 440.0L83.2 440.0M94.6 431.2L91.4 431.2M95.1 433.8L93.8 433.8M92.0 433.8L90.8 433.8M95.4 434.6L94.1 434.6M92.5 434.6L91.2 434.6M95.5 435.4L91.1 435.4M95.3 436.3L90.3 436.3M95.8 437.1L94.8 437.1M95.2 438.0L94.1 438.0M92.0 438.0L90.9 438.0M95.5 438.8L90.9 438.8M95.4 439.7L91.2 439.7M124.6 434.2L121.3 434.2M124.7 435.9L120.7 435.9M125.1 438.4L120.0 438.4M125.7 439.3L124.5 439.3M121.4 439.3L120.3 439.3M129.5 434.8L128.5 434.8M132.9 435.6L131.9 435.6M129.2 435.6L128.2 435.6M160.6 431.0L157.4 431.0M161.9 431.9L160.7 431.9M158.1 431.9L156.9 431.9M161.9 432.7L156.9 432.7M162.1 433.6L156.7 433.6M158.6 434.4L157.6 434.4M161.1 435.2L160.0 435.2M157.8 435.2L156.7 435.2M161.8 436.1L156.5 436.1M161.9 436.9L156.5 436.9M161.7 437.8L160.7 437.8M170.0 431.6L168.7 431.6M169.6 432.4L164.9 432.4M169.6 433.2L165.2 433.2M168.7 434.1L165.3 434.1M169.9 434.9L164.5 434.9M169.5 436.6L168.5 436.6M166.1 436.6L165.1 436.6M169.8 437.5L165.0 437.5M169.4 438.3L164.6 438.3M169.5 439.2L168.6 439.2M165.3 439.2L164.4 439.2M200.6 420.0L197.5 420.3M201.2 420.8L197.0 421.3M201.4 421.7L200.4 421.8M198.2 422.0L197.2 422.1M198.0 425.3L196.9 425.3M201.9 427.1L200.6 427.0M197.8 426.9L196.5 426.9M201.3 427.9L200.2 427.9M198.4 427.8L197.3 427.8M200.5 428.8L197.6 428.6M201.0 429.7L196.9 429.4M201.6 431.5L200.5 431.4M197.8 431.1L196.6 431.0M201.0 432.4L196.3 431.7M200.6 435.0L199.6 434.8M196.9 434.3L195.9 434.1M201.0 435.9L196.1 435.0M200.0 437.6L198.9 437.3M200.2 438.5L195.3 437.3M199.4 439.3L198.2 438.9M199.5 440.1L195.7 439.1M210.9 422.4L208.0 421.5M211.3 424.3L206.6 422.9M207.5 424.9L206.4 424.6M210.1 426.6L206.3 425.4M210.2 428.4L205.7 427.0M209.8 429.2L208.7 428.8M206.3 428.1L205.1 427.7M206.1 428.9L205.1 428.6M209.3 430.8L205.2 429.5M208.6 431.5L205.0 430.3M209.5 430.6L208.7 431.4M207.6 432.5L206.7 433.3M210.2 431.1L206.9 434.4M210.5 432.0L207.7 434.8M209.7 431.1L210.3 432.1M211.2 433.5L211.7 434.4M212.5 432.5L213.1 433.5M211.0 429.8L211.7 430.4M213.9 432.1L214.6 432.6M211.7 429.2L215.1 431.9M212.1 428.5L212.9 429.1M214.7 430.6L215.6 431.2" stroke="#2a2a2a"/>
</g>
<g filter="url(#blD2)">
<text x="55.4" y="332" font-size="3.6" font-weight="bold" text-anchor="middle" fill="#222" >1</text>
<text x="101.9" y="332" font-size="3.6" font-weight="bold" text-anchor="middle" fill="#222" >2</text>
<text x="150.8" y="332" font-size="3.6" font-weight="bold" text-anchor="middle" fill="#222" >3</text>
<text x="196.7" y="332" font-size="3.6" font-weight="bold" text-anchor="middle" fill="#222" >4</text>
<text x="241.4" y="332" font-size="3.6" font-weight="bold" text-anchor="middle" fill="#222" >5</text>
<text x="48.7" y="372.6" font-size="3.6" font-weight="bold" text-anchor="middle" fill="#222" >6</text>
<text x="81.3" y="372.6" font-size="3.6" font-weight="bold" text-anchor="middle" fill="#222" >7</text>
<text x="116.4" y="372.6" font-size="3.6" font-weight="bold" text-anchor="middle" fill="#222" >8</text>
<text x="150.3" y="372.6" font-size="3.6" font-weight="bold" text-anchor="middle" fill="#222" >9</text>
<text x="182.9" y="372.6" font-size="3.6" font-weight="bold" text-anchor="middle" fill="#222" >10</text>
<text x="214.2" y="372.6" font-size="3.6" font-weight="bold" text-anchor="middle" fill="#222" >11</text>
<text x="246" y="372.6" font-size="3.6" font-weight="bold" text-anchor="middle" fill="#222" >12</text>
<text x="51.7" y="405.7" font-size="3.6" font-weight="bold" text-anchor="middle" fill="#222" >13</text>
<text x="89.8" y="405.7" font-size="3.6" font-weight="bold" text-anchor="middle" fill="#222" >14</text>
<text x="127.9" y="405.7" font-size="3.6" font-weight="bold" text-anchor="middle" fill="#222" >15</text>
<text x="167.2" y="405.7" font-size="3.6" font-weight="bold" text-anchor="middle" fill="#222" >16</text>
<text x="207.5" y="405.7" font-size="3.6" font-weight="bold" text-anchor="middle" fill="#222" >17</text>
<text x="245.6" y="405.7" font-size="3.6" font-weight="bold" text-anchor="middle" fill="#222" >18</text>
<text x="51.7" y="445" font-size="3.6" font-weight="bold" text-anchor="middle" fill="#222" >19</text>
<text x="88.9" y="445" font-size="3.6" font-weight="bold" text-anchor="middle" fill="#222" >20</text>
<text x="126.2" y="445" font-size="3.6" font-weight="bold" text-anchor="middle" fill="#222" >21</text>
<text x="163.8" y="445" font-size="3.6" font-weight="bold" text-anchor="middle" fill="#222" >22</text>
<text x="206.2" y="445" font-size="3.6" font-weight="bold" text-anchor="middle" fill="#222" >X</text>
</g>
<text x="231.6" y="459.9" font-size="12.0" font-weight="normal" text-anchor="start" fill="#000" >1143</text>
<rect x="345.4" y="291.3" width="318.70" height="185.90" fill="#ebebeb"/>
<g clip-path="url(#clipE)">
<line x1="390.55" y1="291.3" x2="390.55" y2="477.2" stroke="#fff" stroke-width="0.55"/>
<line x1="452.05" y1="291.3" x2="452.05" y2="477.2" stroke="#fff" stroke-width="0.55"/>
<line x1="513.55" y1="291.3" x2="513.55" y2="477.2" stroke="#fff" stroke-width="0.55"/>
<line x1="575.05" y1="291.3" x2="575.05" y2="477.2" stroke="#fff" stroke-width="0.55"/>
<line x1="636.55" y1="291.3" x2="636.55" y2="477.2" stroke="#fff" stroke-width="0.55"/>
<line x1="345.4" y1="300.09" x2="664.1" y2="300.09" stroke="#fff" stroke-width="0.55"/>
<line x1="345.4" y1="340.96" x2="664.1" y2="340.96" stroke="#fff" stroke-width="0.55"/>
<line x1="345.4" y1="381.84" x2="664.1" y2="381.84" stroke="#fff" stroke-width="0.55"/>
<line x1="345.4" y1="422.71" x2="664.1" y2="422.71" stroke="#fff" stroke-width="0.55"/>
<line x1="345.4" y1="463.59" x2="664.1" y2="463.59" stroke="#fff" stroke-width="0.55"/>
<line x1="359.80" y1="291.3" x2="359.80" y2="477.2" stroke="#fff" stroke-width="1.1"/>
<line x1="421.30" y1="291.3" x2="421.30" y2="477.2" stroke="#fff" stroke-width="1.1"/>
<line x1="482.80" y1="291.3" x2="482.80" y2="477.2" stroke="#fff" stroke-width="1.1"/>
<line x1="544.30" y1="291.3" x2="544.30" y2="477.2" stroke="#fff" stroke-width="1.1"/>
<line x1="605.80" y1="291.3" x2="605.80" y2="477.2" stroke="#fff" stroke-width="1.1"/>
<line x1="345.4" y1="320.52" x2="664.1" y2="320.52" stroke="#fff" stroke-width="1.1"/>
<line x1="345.4" y1="361.40" x2="664.1" y2="361.40" stroke="#fff" stroke-width="1.1"/>
<line x1="345.4" y1="402.27" x2="664.1" y2="402.27" stroke="#fff" stroke-width="1.1"/>
<line x1="345.4" y1="443.15" x2="664.1" y2="443.15" stroke="#fff" stroke-width="1.1"/>
</g>
<line x1="343.2" y1="320.52" x2="345.4" y2="320.52" stroke="#555" stroke-width="0.8"/>
<text x="341.5" y="323.22499999999997" font-size="7.6" font-weight="normal" text-anchor="end" fill="#454545" >25</text>
<line x1="343.2" y1="361.40" x2="345.4" y2="361.40" stroke="#555" stroke-width="0.8"/>
<text x="341.5" y="364.09999999999997" font-size="7.6" font-weight="normal" text-anchor="end" fill="#454545" >0</text>
<line x1="343.2" y1="402.27" x2="345.4" y2="402.27" stroke="#555" stroke-width="0.8"/>
<text x="341.5" y="404.97499999999997" font-size="7.6" font-weight="normal" text-anchor="end" fill="#454545" >−25</text>
<line x1="343.2" y1="443.15" x2="345.4" y2="443.15" stroke="#555" stroke-width="0.8"/>
<text x="341.5" y="445.84999999999997" font-size="7.6" font-weight="normal" text-anchor="end" fill="#454545" >−50</text>
<line x1="359.80" y1="477.2" x2="359.80" y2="479.4" stroke="#555" stroke-width="0.8"/>
<text x="359.79999999999995" y="487.9" font-size="7.6" font-weight="normal" text-anchor="middle" fill="#454545" >−120</text>
<line x1="421.30" y1="477.2" x2="421.30" y2="479.4" stroke="#555" stroke-width="0.8"/>
<text x="421.29999999999995" y="487.9" font-size="7.6" font-weight="normal" text-anchor="middle" fill="#454545" >−80</text>
<line x1="482.80" y1="477.2" x2="482.80" y2="479.4" stroke="#555" stroke-width="0.8"/>
<text x="482.79999999999995" y="487.9" font-size="7.6" font-weight="normal" text-anchor="middle" fill="#454545" >−40</text>
<line x1="544.30" y1="477.2" x2="544.30" y2="479.4" stroke="#555" stroke-width="0.8"/>
<text x="544.3" y="487.9" font-size="7.6" font-weight="normal" text-anchor="middle" fill="#454545" >0</text>
<line x1="605.80" y1="477.2" x2="605.80" y2="479.4" stroke="#555" stroke-width="0.8"/>
<text x="605.8" y="487.9" font-size="7.6" font-weight="normal" text-anchor="middle" fill="#454545" >40</text>
<path d="M362.0 408.5C362.3 405.9 363.0 397.7 363.7 393.1C364.4 388.5 364.7 384.3 366.0 380.8C367.3 377.3 369.0 375.2 371.3 372.1C373.6 369.0 376.8 365.6 380.0 362.4C383.2 359.2 386.8 355.9 390.6 352.8C394.4 349.8 398.7 346.9 402.8 344.1C406.9 341.3 410.7 338.9 415.1 336.2C419.5 333.5 424.4 330.4 429.1 327.8C433.8 325.2 438.4 323.0 443.1 320.8C447.8 318.6 453.5 316.1 457.1 314.6C460.8 313.1 460.4 313.2 465.0 312.0C469.6 310.8 476.8 308.9 485.0 307.4C493.2 305.9 504.5 304.1 514.2 303.0C523.9 301.9 534.0 301.0 543.4 300.5C552.8 300.0 566.2 300.2 570.8 300.2" fill="none" stroke="#a9a9a9" stroke-width="3.7" stroke-linecap="butt"/>
<path d="M560.2 293.6 L572.6 300.4 L562 306.2" fill="none" stroke="#a9a9a9" stroke-width="3.2" stroke-linejoin="miter" stroke-miterlimit="10" stroke-linecap="round"/>
<path d="M613.4 311.9C614.4 314.1 617.4 320.2 619.6 325.0C621.8 329.8 624.4 335.4 626.6 340.8C628.8 346.2 631.0 352.2 632.7 357.5C634.5 362.8 635.9 367.2 637.1 372.3C638.3 377.4 639.1 383.5 639.7 388.1C640.3 392.7 640.6 395.5 640.8 400.0C641.0 404.5 641.1 409.9 640.9 415.0C640.7 420.1 640.5 425.8 639.7 430.8C638.9 435.8 637.5 441.0 636.2 444.8C634.9 448.6 633.5 451.4 631.8 453.6C630.1 455.8 627.1 457.4 626.2 458.2" fill="none" stroke="#a9a9a9" stroke-width="3.85"/>
<path d="M630.9 448.4 L624.7 459.1 L637.3 457.5" fill="none" stroke="#a9a9a9" stroke-width="3.2" stroke-linejoin="miter" stroke-miterlimit="10" stroke-linecap="round"/>
<circle cx="359.7" cy="416.5" r="3.15" fill="#f8141e"/>
<circle cx="365.9" cy="418.8" r="3.15" fill="#f8141e"/>
<circle cx="365.6" cy="426.7" r="3.15" fill="#f8141e"/>
<circle cx="387.8" cy="344.5" r="3.15" fill="#4a639b"/>
<circle cx="393" cy="342.7" r="3.15" fill="#4a639b"/>
<circle cx="402.1" cy="338.9" r="3.15" fill="#4a639b"/>
<circle cx="459.3" cy="319" r="3.15" fill="#1d9e77"/>
<circle cx="473" cy="316.7" r="3.15" fill="#1d9e77"/>
<circle cx="477.7" cy="313.8" r="3.15" fill="#1d9e77"/>
<circle cx="587.2" cy="299.5" r="3.15" fill="#5d8a6b"/>
<circle cx="598.9" cy="307.4" r="3.15" fill="#5d8a6b"/>
<circle cx="608.2" cy="306.5" r="3.15" fill="#5d8a6b"/>
<circle cx="604.1" cy="320.2" r="3.15" fill="#c2518b"/>
<circle cx="607" cy="317.6" r="3.15" fill="#c2518b"/>
<circle cx="607.6" cy="323.4" r="3.15" fill="#c2518b"/>
<circle cx="613.8" cy="337.2" r="3.15" fill="#ff7f11"/>
<circle cx="620.2" cy="339.8" r="3.15" fill="#ff7f11"/>
<circle cx="610.3" cy="353.8" r="3.15" fill="#ff7f11"/>
<circle cx="645" cy="418.5" r="3.15" fill="#ffe21f"/>
<circle cx="650" cy="419.1" r="3.15" fill="#ffe21f"/>
<circle cx="649.7" cy="423.2" r="3.15" fill="#ffe21f"/>
<circle cx="610.5" cy="465.8" r="3.15" fill="#d6951b"/>
<circle cx="614.3" cy="467.6" r="3.15" fill="#d6951b"/>
<circle cx="617.6" cy="468.8" r="3.15" fill="#d6951b"/>
<ellipse cx="589.6" cy="313.8" rx="12.2" ry="6.3" fill="#fff" stroke="#000" stroke-width="1.2" transform="rotate(-8 589.6 313.8)"/>
<ellipse cx="584.9" cy="314.5" rx="2.8" ry="3.6" fill="#1a0a08" transform="rotate(15 584.9 314.5)"/>
<ellipse cx="596.9" cy="312.3" rx="2.8" ry="3.6" fill="#1a0a08" transform="rotate(15 596.9 312.3)"/>
<text x="369.4" y="330.4" font-size="13.85" font-weight="normal" text-anchor="start" fill="#000" >BFU-E</text>
<text x="452.3" y="340" font-size="13.85" font-weight="normal" text-anchor="start" fill="#000" >CFU-E</text>
<text x="374.9" y="429.1" font-size="13.85" font-weight="normal" text-anchor="start" fill="#000" >HSPC</text>
<text x="594.6" y="297.9" font-size="13.85" font-weight="normal" text-anchor="start" fill="#000" >ProE</text>
<text x="539.8" y="320.2" font-size="13.85" font-weight="normal" text-anchor="start" fill="#000" >iSRE</text>
<text x="623.0" y="324.7" font-size="13.85" font-weight="normal" text-anchor="start" fill="#000" >EBasoE</text>
<text x="637.9" y="349.9" font-size="13.85" font-weight="normal" text-anchor="start" fill="#000" >LBasoE</text>
<text x="595.4" y="423.3" font-size="13.85" font-weight="normal" text-anchor="start" fill="#000" >PolyE</text>
<text x="552.0" y="469.2" font-size="13.85" font-weight="normal" text-anchor="start" fill="#000" >OrthoE</text>
<text x="520" y="501.2" font-size="14.4" font-weight="bold" text-anchor="middle" fill="#000" >PC1</text>
<text transform="translate(328.2 370.7) rotate(-90)" font-size="14.4" font-weight="bold" text-anchor="middle">PC2</text>
<rect x="372.6" y="286.3" width="0.8" height="0.8" fill="#cfcfcf"/>
<rect x="412.6" y="286.3" width="0.8" height="0.8" fill="#cfcfcf"/>
<rect x="474.8" y="286.3" width="0.8" height="0.8" fill="#cfcfcf"/>
<line x1="89.4" y1="656.60" x2="318.3" y2="656.60" stroke="#d0d0d0" stroke-width="1"/>
<line x1="89.4" y1="615.20" x2="318.3" y2="615.20" stroke="#d0d0d0" stroke-width="1"/>
<line x1="89.4" y1="573.80" x2="318.3" y2="573.80" stroke="#d0d0d0" stroke-width="1"/>
<rect x="94.40" y="611.47" width="13.9" height="86.53" fill="#c00000"/>
<rect x="108.30" y="558.07" width="13.9" height="139.93" fill="#808080"/>
<rect x="132.55" y="580.22" width="13.9" height="117.78" fill="#c00000"/>
<rect x="146.45" y="578.15" width="13.9" height="119.85" fill="#808080"/>
<rect x="170.70" y="597.19" width="13.9" height="100.81" fill="#c00000"/>
<rect x="184.60" y="598.02" width="13.9" height="99.98" fill="#808080"/>
<rect x="208.85" y="608.58" width="13.9" height="89.42" fill="#c00000"/>
<rect x="222.75" y="618.93" width="13.9" height="79.07" fill="#808080"/>
<rect x="247.00" y="664.67" width="13.9" height="33.33" fill="#c00000"/>
<rect x="260.90" y="676.47" width="13.9" height="21.53" fill="#808080"/>
<rect x="285.15" y="695.10" width="13.9" height="2.90" fill="#c00000"/>
<rect x="299.05" y="693.03" width="13.9" height="4.97" fill="#808080"/>
<path d="M89.4 532.4H318.3V698.0H89.4Z" fill="none" stroke="#000" stroke-width="1"/>
<line x1="83.4" y1="698.00" x2="89.4" y2="698.00" stroke="#000" stroke-width="1"/>
<text x="77.8" y="703.2" font-size="13.5" font-weight="normal" text-anchor="end" fill="#000" >0</text>
<text x="323.8" y="703.2" font-size="13.5" font-weight="normal" text-anchor="start" fill="#000" >0</text>
<line x1="83.4" y1="656.60" x2="89.4" y2="656.60" stroke="#000" stroke-width="1"/>
<text x="77.8" y="661.8000000000001" font-size="13.5" font-weight="normal" text-anchor="end" fill="#000" >2</text>
<text x="323.8" y="661.8000000000001" font-size="13.5" font-weight="normal" text-anchor="start" fill="#000" >8</text>
<line x1="83.4" y1="615.20" x2="89.4" y2="615.20" stroke="#000" stroke-width="1"/>
<text x="77.8" y="620.4000000000001" font-size="13.5" font-weight="normal" text-anchor="end" fill="#000" >4</text>
<text x="323.8" y="620.4000000000001" font-size="13.5" font-weight="normal" text-anchor="start" fill="#000" >16</text>
<line x1="83.4" y1="573.80" x2="89.4" y2="573.80" stroke="#000" stroke-width="1"/>
<text x="77.8" y="579.0" font-size="13.5" font-weight="normal" text-anchor="end" fill="#000" >6</text>
<text x="323.8" y="579.0" font-size="13.5" font-weight="normal" text-anchor="start" fill="#000" >24</text>
<line x1="83.4" y1="532.40" x2="89.4" y2="532.40" stroke="#000" stroke-width="1"/>
<text x="77.8" y="537.6" font-size="13.5" font-weight="normal" text-anchor="end" fill="#000" >8</text>
<text x="323.8" y="537.6" font-size="13.5" font-weight="normal" text-anchor="start" fill="#000" >32</text>
<line x1="89.40" y1="698.0" x2="89.40" y2="704.5" stroke="#000" stroke-width="1"/>
<line x1="127.55" y1="698.0" x2="127.55" y2="704.5" stroke="#000" stroke-width="1"/>
<line x1="165.70" y1="698.0" x2="165.70" y2="704.5" stroke="#000" stroke-width="1"/>
<line x1="203.85" y1="698.0" x2="203.85" y2="704.5" stroke="#000" stroke-width="1"/>
<line x1="242.00" y1="698.0" x2="242.00" y2="704.5" stroke="#000" stroke-width="1"/>
<line x1="280.15" y1="698.0" x2="280.15" y2="704.5" stroke="#000" stroke-width="1"/>
<line x1="318.30" y1="698.0" x2="318.30" y2="704.5" stroke="#000" stroke-width="1"/>
<rect x="231.4" y="540.5" width="7.8" height="7.7" fill="#c00000"/>
<rect x="231.4" y="563.1" width="7.8" height="7.8" fill="#808080"/>
<text x="241.9" y="548.7" font-size="14.8" font-weight="normal" text-anchor="start" fill="#000" >BMI1</text>
<text x="241.9" y="571.4" font-size="14.8" font-weight="normal" text-anchor="start" fill="#000" >EEF1A1</text>
<text transform="translate(43.9 616.6) rotate(-90)" font-size="14.9" font-weight="bold" text-anchor="middle">Relative EEF1A1 levels</text>
<text transform="translate(62.6 616.6) rotate(-90)" font-size="14.9" font-weight="bold" text-anchor="middle">(x 1000)</text>
<text transform="translate(366.6 618.2) rotate(90)" font-size="14.9" font-weight="bold" text-anchor="middle">Relative BMI1 levels</text>
<text transform="translate(349 618.2) rotate(90)" font-size="14.9" font-weight="bold" text-anchor="middle">(x 250)</text>
<text transform="translate(119.8 714) rotate(-38.5)" font-size="13.3" text-anchor="end">CFUE</text>
<text transform="translate(154.9 714) rotate(-38.5)" font-size="13.3" text-anchor="end">ProE</text>
<text transform="translate(201.2 714) rotate(-38.5)" font-size="13.3" text-anchor="end">BasoE</text>
<text transform="translate(240.6 714) rotate(-38.5)" font-size="13.3" text-anchor="end">BasoE</text>
<text transform="translate(271.5 714) rotate(-38.5)" font-size="13.3" text-anchor="end">PolyE</text>
<text transform="translate(306 714) rotate(-38.5)" font-size="13.3" text-anchor="end">OrthoE</text>
<text transform="translate(178.6 718.4) rotate(-38.5)" font-size="13.3" text-anchor="middle">E</text>
<text transform="translate(217.5 718.7) rotate(-38.5)" font-size="13.3" text-anchor="middle">L</text>
</svg>
</body></html>
